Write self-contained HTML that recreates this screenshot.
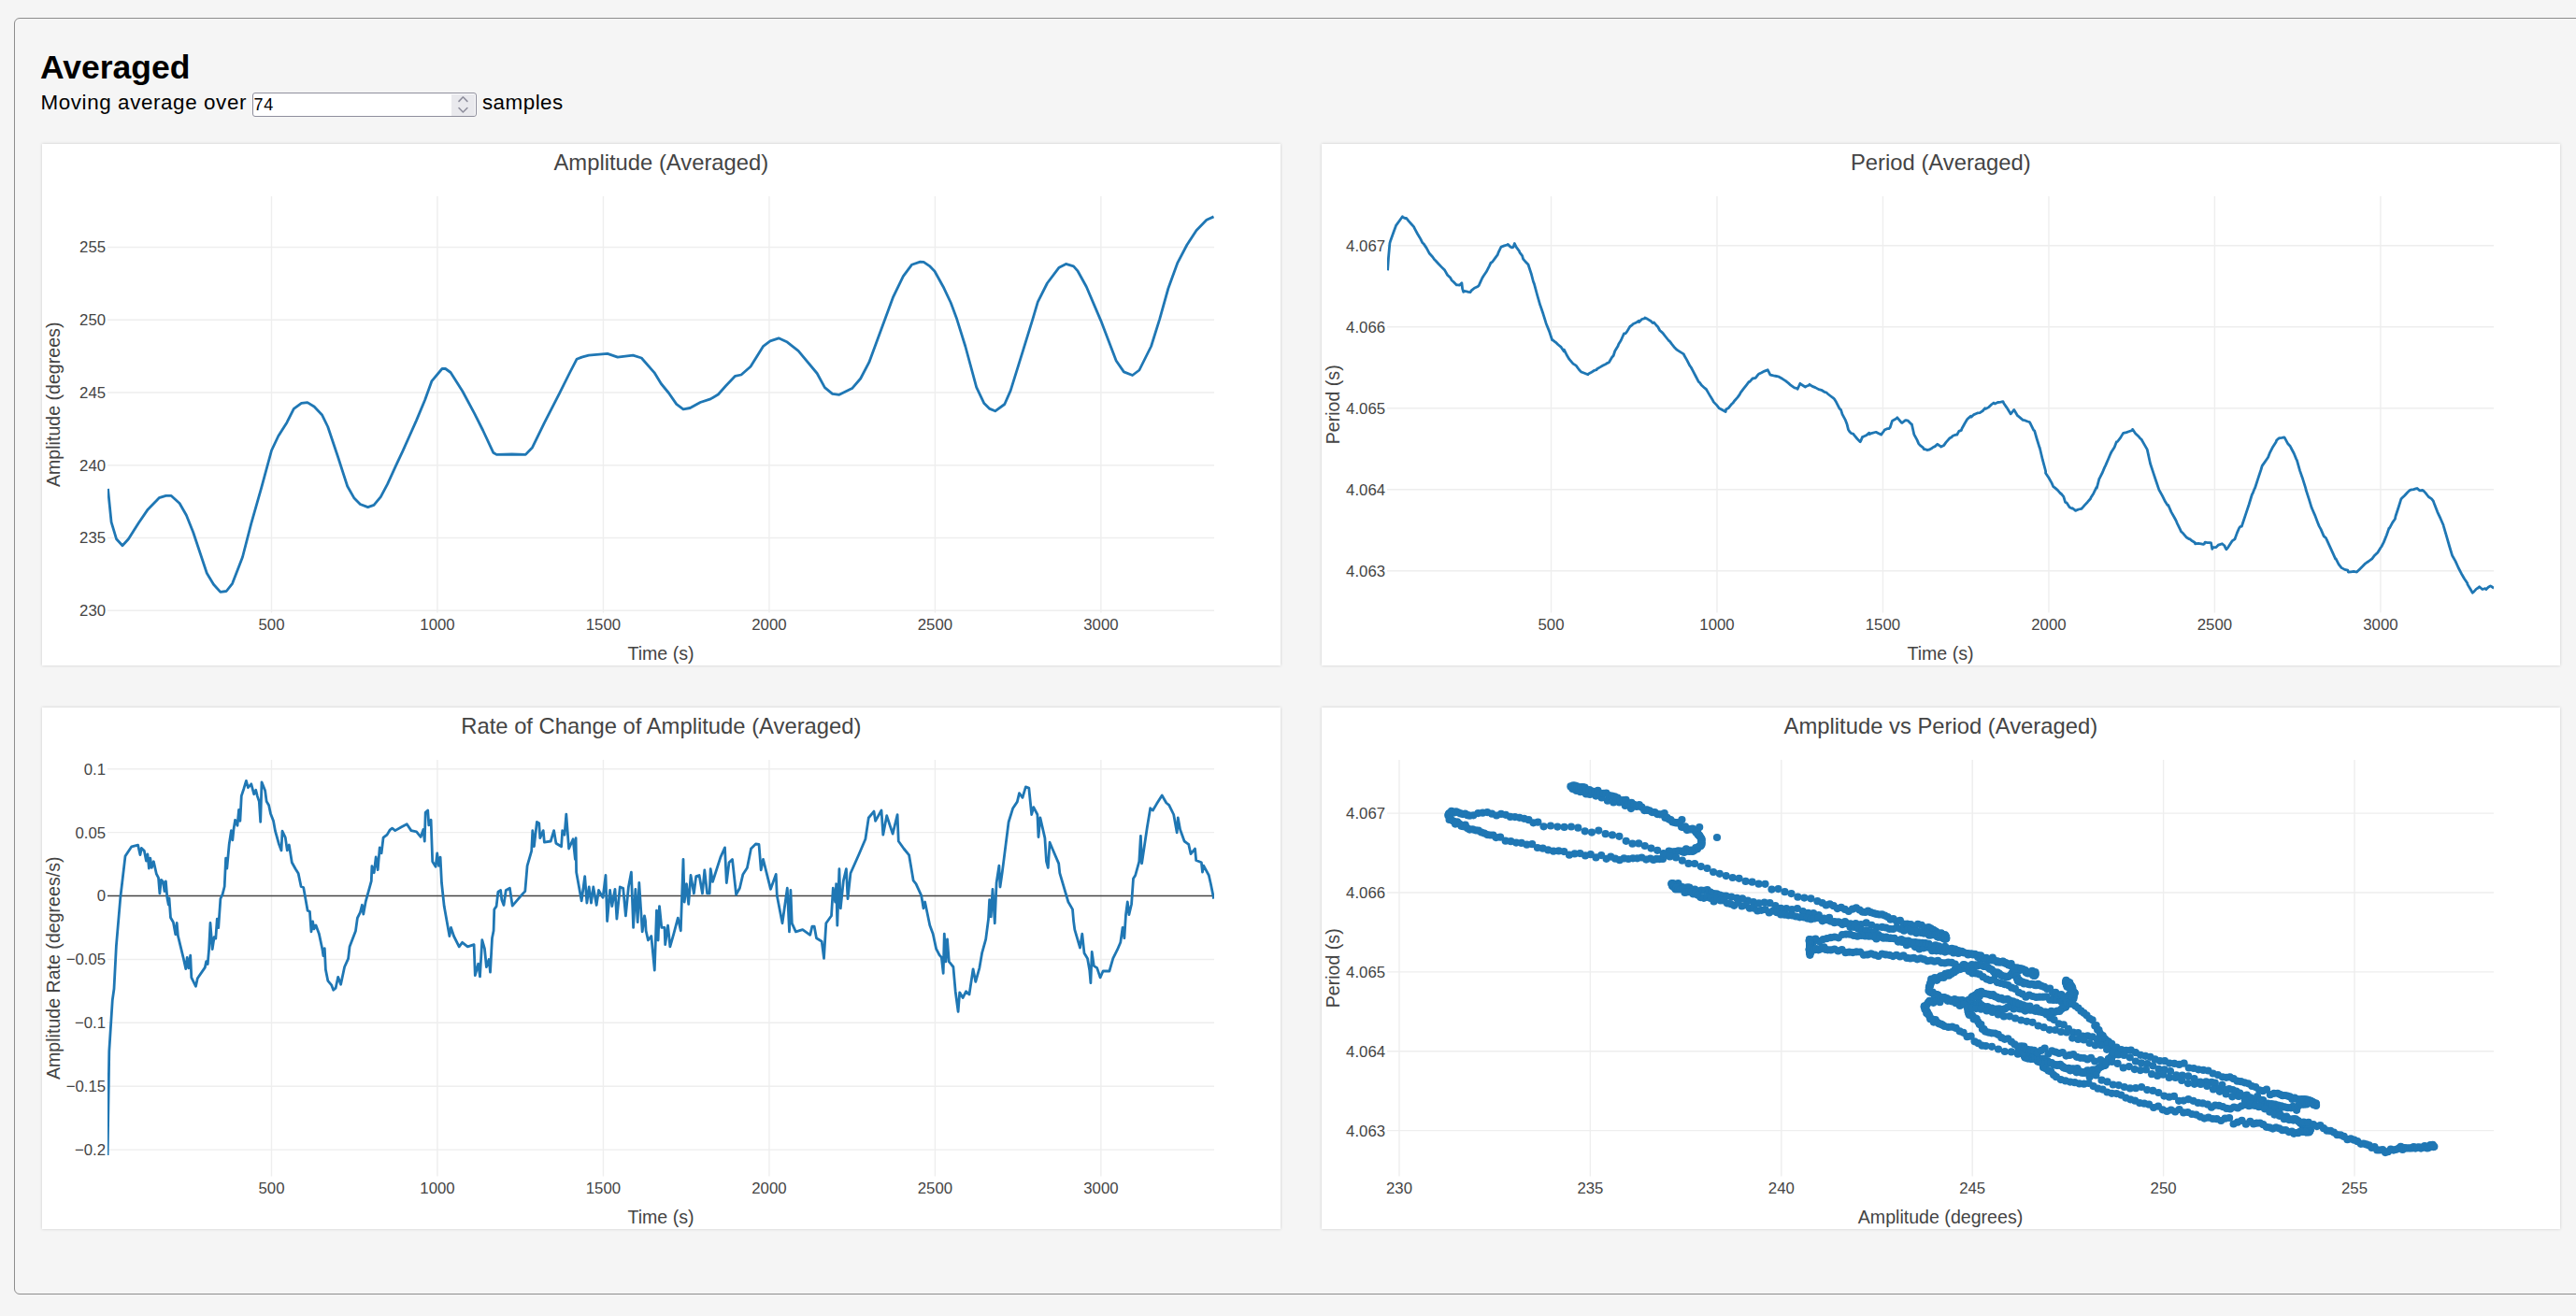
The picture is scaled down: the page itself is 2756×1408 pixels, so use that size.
<!DOCTYPE html>
<html><head><meta charset="utf-8"><style>
html,body{margin:0;padding:0;width:2756px;height:1408px;overflow:hidden;background:#f5f5f5;}
body{position:relative;font-family:"Liberation Sans",sans-serif;}
.outer{position:absolute;left:14.9px;top:18.6px;width:2800px;height:1366.6px;border:1.4px solid #8d8d8d;border-radius:6px;box-sizing:border-box;}
.card{position:absolute;background:#fff;width:1324.7px;height:558.3px;box-shadow:0 0 3px rgba(0,0,0,0.18);}
.h{position:absolute;left:43px;top:0;font-weight:700;font-size:35.5px;line-height:1;color:#000;white-space:nowrap;}
.lbl{position:absolute;font-size:23px;line-height:1;color:#000;white-space:nowrap;}
.inp{position:absolute;left:270.4px;top:99.3px;width:239.3px;height:26.2px;box-sizing:border-box;border:1.4px solid #8f8f9d;border-radius:3px;background:#fff;}
.spin{position:absolute;left:482.8px;top:101px;width:25.5px;height:22.8px;background:#e9e9ed;}
svg{position:absolute;left:0;top:0;}
.tk{font-family:"Liberation Sans",sans-serif;font-size:16.8px;fill:#444;}
.ti{font-family:"Liberation Sans",sans-serif;font-size:23.8px;fill:#444;}
.ax{font-family:"Liberation Sans",sans-serif;font-size:19.6px;fill:#444;}
</style></head><body>
<div class="outer"></div>
<div class="card" style="left:45.0px;top:153.7px"></div>
<div class="card" style="left:1414.0px;top:153.7px"></div>
<div class="card" style="left:45.0px;top:756.7px"></div>
<div class="card" style="left:1414.0px;top:756.7px"></div>
<div class="h" style="top:55px">Averaged</div>
<div class="lbl" style="left:43.5px;top:98.94px;font-size:22.4px;letter-spacing:0.6px">Moving average over</div>
<div class="inp"></div>
<div class="spin"></div>
<div class="lbl" style="left:271.6px;top:103.4px;font-size:18px;letter-spacing:0.6px">74</div>
<div class="lbl" style="left:515.9px;top:98.94px;font-size:22.4px;letter-spacing:0.5px">samples</div>
<svg width="2756" height="1408" viewBox="0 0 2756 1408">
<g fill="none" stroke="#8f8f9d" stroke-width="1.6" stroke-linecap="round" stroke-linejoin="round">
<path d="M491.0,108.4 L495.4,103.8 L499.9,108.4"/>
<path d="M491.0,115.5 L495.4,120.0 L499.9,115.5"/>
</g>
<line x1="290.50" y1="210.10" x2="290.50" y2="655.50" stroke="#eee" stroke-width="1.4"/><line x1="467.98" y1="210.10" x2="467.98" y2="655.50" stroke="#eee" stroke-width="1.4"/><line x1="645.46" y1="210.10" x2="645.46" y2="655.50" stroke="#eee" stroke-width="1.4"/><line x1="822.94" y1="210.10" x2="822.94" y2="655.50" stroke="#eee" stroke-width="1.4"/><line x1="1000.42" y1="210.10" x2="1000.42" y2="655.50" stroke="#eee" stroke-width="1.4"/><line x1="1177.90" y1="210.10" x2="1177.90" y2="655.50" stroke="#eee" stroke-width="1.4"/><line x1="115.00" y1="653.30" x2="1299.00" y2="653.30" stroke="#eee" stroke-width="1.4"/><line x1="115.00" y1="575.55" x2="1299.00" y2="575.55" stroke="#eee" stroke-width="1.4"/><line x1="115.00" y1="497.80" x2="1299.00" y2="497.80" stroke="#eee" stroke-width="1.4"/><line x1="115.00" y1="420.05" x2="1299.00" y2="420.05" stroke="#eee" stroke-width="1.4"/><line x1="115.00" y1="342.30" x2="1299.00" y2="342.30" stroke="#eee" stroke-width="1.4"/><line x1="115.00" y1="264.55" x2="1299.00" y2="264.55" stroke="#eee" stroke-width="1.4"/><text x="290.50" y="673.90" text-anchor="middle" class="tk">500</text><text x="467.98" y="673.90" text-anchor="middle" class="tk">1000</text><text x="645.46" y="673.90" text-anchor="middle" class="tk">1500</text><text x="822.94" y="673.90" text-anchor="middle" class="tk">2000</text><text x="1000.42" y="673.90" text-anchor="middle" class="tk">2500</text><text x="1177.90" y="673.90" text-anchor="middle" class="tk">3000</text><text x="113.10" y="659.20" text-anchor="end" class="tk">230</text><text x="113.10" y="581.45" text-anchor="end" class="tk">235</text><text x="113.10" y="503.70" text-anchor="end" class="tk">240</text><text x="113.10" y="425.95" text-anchor="end" class="tk">245</text><text x="113.10" y="348.20" text-anchor="end" class="tk">250</text><text x="113.10" y="270.45" text-anchor="end" class="tk">255</text><text x="707.35" y="182.00" text-anchor="middle" class="ti">Amplitude (Averaged)</text><text x="707.00" y="705.90" text-anchor="middle" class="ax">Time (s)</text><text transform="translate(64.30,432.80) rotate(-90)" text-anchor="middle" class="ax">Amplitude (degrees)</text><clipPath id="c1"><rect x="115.00" y="210.10" width="1184.00" height="445.40"/></clipPath><polyline clip-path="url(#c1)" points="115.5,523.0 119.1,558.6 124.6,576.8 131.0,583.8 137.4,576.8 148.3,559.5 158.3,544.9 170.2,532.7 177.5,530.3 183.0,530.3 192.1,538.5 199.4,551.3 206.7,569.5 221.3,613.3 228.5,625.2 235.8,633.4 242.2,632.5 248.6,624.3 259.5,596.0 268.7,560.4 279.6,522.1 290.5,482.0 297.8,466.5 307.0,451.9 314.3,437.3 322.5,431.3 328.9,430.6 336.1,435.0 344.4,443.7 350.7,456.5 361.7,489.3 371.7,520.3 379.0,533.1 385.4,539.5 393.6,542.6 400.0,540.4 407.3,531.6 414.6,517.9 423.7,497.9 431.0,482.4 438.3,466.0 445.6,449.6 454.7,427.7 462.0,407.6 473.0,394.5 476.6,394.5 482.1,398.5 494.8,418.5 507.6,442.3 516.7,460.5 527.7,484.2 531.3,486.4 547.7,486.0 562.3,486.4 569.6,478.7 582.4,452.3 598.8,420.4 609.7,398.5 617.0,384.3 622.5,382.1 629.8,380.2 649.9,378.4 660.8,382.1 677.2,380.2 686.3,383.0 700.0,398.6 707.3,410.5 715.5,420.5 723.7,432.4 731.0,437.8 738.3,436.5 749.2,430.5 760.2,426.9 768.4,422.0 776.6,412.8 786.6,402.3 793.0,401.0 803.0,392.2 816.7,370.3 824.0,364.9 833.1,361.8 842.3,366.1 854.1,375.3 874.2,399.5 882.4,414.7 890.6,421.4 897.9,422.3 911.6,415.6 920.7,405.0 929.8,387.7 942.6,353.0 955.3,318.4 966.3,295.6 975.4,283.3 984.5,280.1 988.2,280.4 994.5,284.6 1000.0,290.2 1009.1,306.7 1017.3,324.0 1023.7,341.3 1032.8,370.5 1044.7,414.3 1052.9,431.6 1058.4,437.1 1064.7,439.8 1074.8,432.5 1081.2,417.9 1094.8,374.1 1104.9,341.3 1110.3,323.1 1120.4,303.0 1133.1,286.2 1140.4,282.4 1148.6,284.8 1153.2,290.2 1162.3,306.7 1177.8,343.1 1194.2,386.0 1202.4,397.9 1211.6,401.5 1218.9,396.0 1231.6,370.5 1240.7,341.3 1249.9,308.5 1259.9,281.1 1269.9,262.0 1280.0,246.5 1290.9,235.2 1298.5,231.9" fill="none" stroke="#1f77b4" stroke-width="2.8" stroke-linejoin="round" stroke-linecap="butt"/><line x1="1659.50" y1="210.10" x2="1659.50" y2="655.50" stroke="#eee" stroke-width="1.4"/><line x1="1836.98" y1="210.10" x2="1836.98" y2="655.50" stroke="#eee" stroke-width="1.4"/><line x1="2014.46" y1="210.10" x2="2014.46" y2="655.50" stroke="#eee" stroke-width="1.4"/><line x1="2191.94" y1="210.10" x2="2191.94" y2="655.50" stroke="#eee" stroke-width="1.4"/><line x1="2369.42" y1="210.10" x2="2369.42" y2="655.50" stroke="#eee" stroke-width="1.4"/><line x1="2546.90" y1="210.10" x2="2546.90" y2="655.50" stroke="#eee" stroke-width="1.4"/><line x1="1484.00" y1="610.80" x2="2668.00" y2="610.80" stroke="#eee" stroke-width="1.4"/><line x1="1484.00" y1="523.80" x2="2668.00" y2="523.80" stroke="#eee" stroke-width="1.4"/><line x1="1484.00" y1="436.80" x2="2668.00" y2="436.80" stroke="#eee" stroke-width="1.4"/><line x1="1484.00" y1="349.80" x2="2668.00" y2="349.80" stroke="#eee" stroke-width="1.4"/><line x1="1484.00" y1="262.80" x2="2668.00" y2="262.80" stroke="#eee" stroke-width="1.4"/><text x="1659.50" y="673.90" text-anchor="middle" class="tk">500</text><text x="1836.98" y="673.90" text-anchor="middle" class="tk">1000</text><text x="2014.46" y="673.90" text-anchor="middle" class="tk">1500</text><text x="2191.94" y="673.90" text-anchor="middle" class="tk">2000</text><text x="2369.42" y="673.90" text-anchor="middle" class="tk">2500</text><text x="2546.90" y="673.90" text-anchor="middle" class="tk">3000</text><text x="1482.10" y="616.70" text-anchor="end" class="tk">4.063</text><text x="1482.10" y="529.70" text-anchor="end" class="tk">4.064</text><text x="1482.10" y="442.70" text-anchor="end" class="tk">4.065</text><text x="1482.10" y="355.70" text-anchor="end" class="tk">4.066</text><text x="1482.10" y="268.70" text-anchor="end" class="tk">4.067</text><text x="2076.35" y="182.00" text-anchor="middle" class="ti">Period (Averaged)</text><text x="2076.00" y="705.90" text-anchor="middle" class="ax">Time (s)</text><text transform="translate(1433.30,432.80) rotate(-90)" text-anchor="middle" class="ax">Period (s)</text><clipPath id="c2"><rect x="1484.00" y="210.10" width="1184.00" height="445.40"/></clipPath><polyline clip-path="url(#c2)" points="1484.6,289.3 1485.5,275.7 1486.9,260.2 1487.8,257.2 1491.0,248.3 1493.7,241.0 1494.2,240.4 1497.4,236.0 1500.4,231.7 1500.6,232.4 1503.8,233.6 1504.6,233.4 1507.0,236.4 1510.2,240.0 1512.8,242.9 1513.4,244.4 1516.6,250.2 1519.8,255.6 1521.9,259.9 1523.0,260.6 1526.2,265.4 1529.4,271.3 1532.6,274.7 1534.7,277.8 1535.8,278.8 1539.0,282.3 1542.2,285.6 1545.4,288.8 1545.7,289.1 1548.6,294.2 1551.8,297.3 1553.0,299.7 1555.0,301.5 1558.2,304.8 1558.4,304.6 1561.4,305.2 1563.9,302.7 1564.6,308.8 1565.7,312.3 1567.8,311.5 1571.0,312.3 1573.0,312.6 1574.2,310.9 1577.4,308.2 1580.6,306.8 1582.1,305.7 1583.8,301.9 1585.8,297.5 1587.0,295.5 1590.2,290.8 1593.4,284.6 1594.9,281.3 1596.6,280.3 1599.8,275.9 1602.2,272.7 1603.0,270.4 1605.8,264.5 1606.2,264.1 1609.4,262.9 1612.6,262.0 1613.1,261.4 1615.8,263.9 1617.7,264.9 1619.0,264.4 1620.4,260.5 1622.2,264.4 1625.4,268.6 1625.9,270.2 1628.6,273.7 1629.6,277.1 1631.8,279.7 1635.0,283.0 1635.0,283.0 1638.2,292.7 1640.5,301.5 1641.4,303.6 1644.6,315.5 1647.8,326.7 1647.8,326.4 1651.0,335.8 1654.2,346.2 1657.4,354.1 1660.6,363.8 1660.6,363.2 1663.8,365.9 1664.2,365.9 1667.0,368.7 1670.2,371.4 1673.3,376.1 1673.4,374.2 1676.6,380.6 1678.8,384.2 1679.8,385.4 1683.0,389.1 1686.2,391.2 1689.4,395.5 1691.6,397.9 1692.6,398.3 1695.8,399.5 1698.9,400.8 1699.0,400.3 1702.2,398.6 1705.4,396.5 1708.0,395.7 1708.6,394.7 1711.8,392.9 1715.0,391.0 1718.2,389.5 1718.9,388.9 1721.4,387.8 1724.6,382.3 1726.2,380.5 1727.8,375.5 1731.0,370.2 1731.7,368.2 1734.2,364.3 1737.4,357.0 1739.0,356.8 1740.6,354.9 1743.8,349.5 1746.3,347.7 1747.0,346.7 1750.2,345.3 1753.4,343.2 1753.6,344.6 1756.6,341.5 1759.8,340.6 1760.0,340.0 1763.0,341.6 1766.2,343.5 1768.2,345.6 1769.4,344.9 1772.6,348.6 1773.6,349.5 1775.8,353.5 1778.2,355.6 1779.0,356.4 1782.2,360.5 1785.4,364.5 1786.4,365.2 1788.6,368.2 1791.8,372.1 1793.7,373.9 1795.0,374.9 1798.2,376.9 1801.4,378.9 1801.9,380.2 1804.6,384.9 1807.8,391.2 1809.2,393.0 1811.0,396.4 1814.2,402.5 1817.4,408.6 1818.3,409.2 1820.6,412.3 1823.8,415.2 1825.6,416.7 1827.0,419.1 1830.2,424.6 1832.0,427.4 1833.4,430.1 1836.6,433.4 1839.3,436.8 1839.8,437.0 1843.0,438.7 1846.2,440.6 1846.6,437.9 1849.4,436.4 1852.6,432.4 1853.9,431.3 1855.8,428.7 1859.0,425.1 1861.2,422.1 1862.2,420.1 1865.4,415.9 1868.6,411.8 1871.2,408.4 1871.8,408.6 1875.0,405.0 1878.2,404.4 1881.3,400.3 1881.4,400.3 1884.6,398.8 1887.8,397.1 1891.0,395.9 1891.3,395.8 1894.0,401.2 1894.2,401.2 1897.4,401.9 1900.6,402.5 1903.1,403.0 1903.8,403.5 1907.0,405.3 1910.2,407.4 1913.4,409.9 1915.9,412.2 1916.6,412.7 1919.8,414.9 1923.0,415.7 1923.2,416.3 1925.9,410.3 1926.2,410.7 1929.4,412.7 1931.4,414.0 1932.6,413.3 1935.8,412.0 1936.0,411.3 1939.0,413.4 1942.2,414.6 1945.4,416.4 1946.0,416.6 1948.6,417.3 1951.8,419.3 1954.2,420.0 1955.0,421.0 1958.2,423.5 1961.4,425.9 1962.4,426.8 1964.6,430.3 1967.8,436.7 1969.7,438.8 1971.0,443.2 1974.2,449.1 1976.1,454.1 1977.4,459.4 1978.8,461.7 1980.6,463.6 1982.5,464.0 1983.8,465.6 1987.0,469.5 1990.2,472.7 1990.7,472.0 1992.5,467.6 1993.4,467.2 1996.6,465.8 1999.8,463.2 1999.8,464.6 2003.0,463.3 2006.2,462.5 2007.1,462.3 2009.4,463.5 2012.6,465.1 2012.6,465.1 2015.8,460.7 2016.2,460.1 2019.0,458.7 2020.8,458.7 2022.2,457.2 2024.4,450.4 2025.4,449.8 2028.6,448.1 2029.9,446.8 2031.8,449.1 2034.5,452.3 2035.0,452.5 2038.2,449.9 2039.0,449.7 2041.4,450.2 2044.6,453.5 2045.4,454.0 2047.8,464.7 2048.1,465.3 2051.0,470.6 2052.7,474.6 2054.2,476.4 2057.4,478.8 2058.2,480.5 2060.6,480.9 2061.8,481.5 2063.8,481.2 2067.0,479.5 2068.2,478.5 2070.2,477.6 2072.8,475.2 2073.4,475.8 2076.4,477.6 2076.6,478.0 2079.8,476.4 2081.9,473.4 2083.0,472.1 2086.2,468.5 2087.4,468.1 2089.4,466.3 2092.6,465.1 2093.7,465.2 2095.8,461.4 2098.3,460.4 2099.0,458.5 2102.2,452.7 2104.7,448.6 2105.4,447.8 2108.6,445.2 2109.2,446.1 2111.8,443.6 2115.0,442.3 2115.6,441.9 2118.2,441.6 2121.4,439.5 2123.8,436.7 2124.6,437.4 2127.8,435.6 2131.0,432.5 2133.0,431.0 2134.2,432.0 2137.4,430.5 2140.6,430.2 2143.0,429.6 2143.8,431.5 2147.0,436.1 2150.2,441.3 2151.2,442.9 2153.4,440.2 2154.8,438.4 2156.6,441.5 2158.5,444.7 2159.8,445.7 2163.0,448.3 2164.0,449.3 2166.2,449.7 2169.4,451.0 2171.3,451.5 2172.6,453.8 2175.8,460.3 2176.7,460.9 2179.0,469.0 2182.2,479.4 2182.2,478.7 2185.4,492.2 2188.6,504.0 2188.6,506.2 2191.8,511.0 2195.0,516.6 2196.8,520.7 2198.2,521.6 2201.4,524.4 2204.6,528.2 2205.0,528.0 2207.8,531.3 2209.6,537.4 2211.0,537.8 2214.2,542.8 2216.8,544.0 2217.4,543.7 2220.6,546.4 2222.3,545.6 2223.8,545.0 2227.0,544.3 2228.7,542.4 2230.2,540.6 2233.4,537.2 2236.6,533.5 2236.9,532.6 2239.8,527.9 2243.0,521.4 2243.3,522.1 2246.0,511.9 2246.2,511.8 2249.4,505.5 2251.5,500.4 2252.6,498.1 2255.8,490.7 2257.9,485.8 2259.0,483.4 2262.2,478.4 2264.3,472.9 2265.4,472.5 2268.6,468.4 2271.6,463.4 2271.8,463.3 2275.0,462.6 2278.2,461.5 2281.4,460.4 2281.6,459.3 2284.6,463.7 2287.8,466.7 2289.8,469.1 2291.0,470.0 2294.2,475.6 2297.1,480.6 2297.4,481.6 2300.6,496.2 2300.7,496.5 2303.8,505.9 2307.0,515.5 2309.9,524.1 2310.2,524.6 2313.4,530.4 2316.6,536.8 2319.0,540.5 2319.8,540.5 2323.0,547.9 2326.2,553.5 2328.1,557.0 2329.4,560.1 2332.6,566.6 2333.6,568.8 2335.8,570.8 2339.0,574.7 2342.2,576.7 2342.7,576.6 2345.4,578.8 2348.2,580.5 2348.6,581.8 2351.8,581.3 2355.0,581.9 2357.3,582.3 2358.2,582.0 2359.1,580.2 2361.4,580.6 2364.6,580.6 2365.5,580.8 2366.8,587.4 2367.8,585.6 2371.0,585.5 2373.7,582.8 2374.2,582.9 2377.4,581.7 2380.1,584.0 2380.6,585.5 2381.9,587.8 2383.8,585.6 2387.0,580.5 2388.3,578.6 2390.2,577.3 2391.0,576.8 2393.4,570.1 2395.6,565.0 2396.6,563.7 2398.3,563.2 2399.8,558.8 2403.0,549.1 2406.2,539.5 2409.4,529.0 2410.2,527.7 2412.0,523.1 2412.6,522.0 2415.8,512.1 2419.0,502.5 2420.2,498.4 2422.2,495.6 2425.4,491.0 2426.6,489.3 2428.6,484.1 2431.8,477.9 2435.0,472.9 2435.7,471.0 2438.2,468.9 2439.3,468.6 2441.4,468.4 2443.9,467.8 2444.6,468.9 2447.8,474.8 2450.3,477.5 2451.0,479.0 2454.2,485.0 2456.7,491.1 2457.4,492.4 2460.6,503.6 2463.8,512.8 2466.7,522.1 2467.0,523.7 2470.2,533.6 2473.1,543.1 2473.4,543.8 2476.6,551.1 2479.8,559.4 2481.3,563.1 2483.0,566.1 2486.2,573.6 2488.6,575.8 2489.4,577.7 2492.6,584.7 2495.8,591.7 2498.6,597.8 2499.0,597.6 2502.2,603.8 2505.0,607.4 2505.4,607.6 2508.6,609.4 2511.8,610.2 2512.3,612.0 2515.0,611.9 2518.2,611.4 2520.5,611.8 2521.4,612.0 2524.6,608.9 2527.8,605.8 2530.5,603.0 2531.0,602.7 2534.2,600.5 2537.4,598.1 2537.8,597.8 2540.6,594.2 2543.8,591.2 2547.0,586.0 2547.8,585.0 2550.2,580.4 2553.4,572.5 2556.0,565.0 2556.6,564.8 2559.8,558.9 2562.4,555.2 2563.0,552.2 2566.2,542.5 2568.8,534.1 2569.4,533.3 2572.6,530.2 2575.8,526.7 2577.9,524.8 2579.0,524.2 2582.2,523.6 2585.4,522.7 2586.1,522.5 2588.6,524.8 2591.8,524.5 2592.5,524.8 2595.0,527.4 2598.2,531.5 2601.4,533.6 2603.4,536.2 2604.6,539.6 2607.8,547.8 2609.8,552.2 2611.0,554.7 2614.2,562.0 2614.4,563.1 2617.4,573.3 2620.6,584.5 2623.5,594.1 2623.8,594.7 2627.0,600.4 2630.2,607.5 2632.6,612.1 2633.4,613.7 2636.6,619.3 2639.8,624.0 2639.9,625.1 2643.0,630.3 2645.3,634.2 2646.2,633.6 2649.4,630.1 2650.8,629.3 2652.6,627.8 2655.8,630.5 2659.0,629.6 2659.9,630.6 2662.2,628.3 2664.5,626.9 2665.4,627.4 2668.1,629.3" fill="none" stroke="#1f77b4" stroke-width="2.8" stroke-linejoin="round" stroke-linecap="butt"/><line x1="290.50" y1="813.10" x2="290.50" y2="1258.50" stroke="#eee" stroke-width="1.4"/><line x1="467.98" y1="813.10" x2="467.98" y2="1258.50" stroke="#eee" stroke-width="1.4"/><line x1="645.46" y1="813.10" x2="645.46" y2="1258.50" stroke="#eee" stroke-width="1.4"/><line x1="822.94" y1="813.10" x2="822.94" y2="1258.50" stroke="#eee" stroke-width="1.4"/><line x1="1000.42" y1="813.10" x2="1000.42" y2="1258.50" stroke="#eee" stroke-width="1.4"/><line x1="1177.90" y1="813.10" x2="1177.90" y2="1258.50" stroke="#eee" stroke-width="1.4"/><line x1="115.00" y1="822.78" x2="1299.00" y2="822.78" stroke="#eee" stroke-width="1.4"/><line x1="115.00" y1="890.66" x2="1299.00" y2="890.66" stroke="#eee" stroke-width="1.4"/><line x1="115.00" y1="1026.43" x2="1299.00" y2="1026.43" stroke="#eee" stroke-width="1.4"/><line x1="115.00" y1="1094.32" x2="1299.00" y2="1094.32" stroke="#eee" stroke-width="1.4"/><line x1="115.00" y1="1162.20" x2="1299.00" y2="1162.20" stroke="#eee" stroke-width="1.4"/><line x1="115.00" y1="1230.09" x2="1299.00" y2="1230.09" stroke="#eee" stroke-width="1.4"/><line x1="115.00" y1="958.55" x2="1299.00" y2="958.55" stroke="#444" stroke-width="1.4"/><text x="290.50" y="1276.90" text-anchor="middle" class="tk">500</text><text x="467.98" y="1276.90" text-anchor="middle" class="tk">1000</text><text x="645.46" y="1276.90" text-anchor="middle" class="tk">1500</text><text x="822.94" y="1276.90" text-anchor="middle" class="tk">2000</text><text x="1000.42" y="1276.90" text-anchor="middle" class="tk">2500</text><text x="1177.90" y="1276.90" text-anchor="middle" class="tk">3000</text><text x="113.10" y="828.68" text-anchor="end" class="tk">0.1</text><text x="113.10" y="896.56" text-anchor="end" class="tk">0.05</text><text x="113.10" y="964.45" text-anchor="end" class="tk">0</text><text x="113.10" y="1032.34" text-anchor="end" class="tk">−0.05</text><text x="113.10" y="1100.22" text-anchor="end" class="tk">−0.1</text><text x="113.10" y="1168.11" text-anchor="end" class="tk">−0.15</text><text x="113.10" y="1235.99" text-anchor="end" class="tk">−0.2</text><text x="707.35" y="785.00" text-anchor="middle" class="ti">Rate of Change of Amplitude (Averaged)</text><text x="707.00" y="1308.90" text-anchor="middle" class="ax">Time (s)</text><text transform="translate(64.30,1035.80) rotate(-90)" text-anchor="middle" class="ax">Amplitude Rate (degrees/s)</text><clipPath id="c3"><rect x="115.00" y="813.10" width="1184.00" height="445.40"/></clipPath><polyline clip-path="url(#c3)" points="115.1,1235.9 116.8,1124.7 120.3,1070.0 122.0,1058.0 124.4,1011.8 128.8,960.5 134.0,916.1 140.8,905.8 147.6,904.1 150.0,914.6 151.4,907.4 154.3,910.3 156.5,921.1 157.9,913.9 159.4,929.1 160.8,918.2 162.3,928.3 164.4,921.8 167.3,934.8 169.5,939.2 170.9,955.8 172.4,941.3 174.5,943.5 176.0,953.6 177.4,942.8 178.9,960.8 180.3,968.0 181.0,960.8 182.5,981.7 185.4,986.8 187.8,999.8 189.2,987.5 190.4,1001.2 196.2,1025.0 198.8,1036.6 200.2,1024.3 201.9,1035.8 203.7,1022.1 204.8,1045.9 209.5,1055.3 211.3,1046.7 219.3,1035.1 220.7,1028.6 222.2,1031.5 223.6,1015.6 225.0,987.5 227.2,1015.6 229.1,1002.7 230.8,1004.1 232.3,983.2 233.7,992.6 235.9,961.5 238.0,957.2 240.2,948.5 241.6,918.2 242.8,929.1 245.2,903.1 247.4,888.7 248.8,898.8 250.0,887.2 251.6,877.3 254.0,883.3 255.5,866.5 256.9,878.3 258.3,851.6 260.9,843.7 263.4,835.4 265.4,842.7 268.8,838.8 271.7,849.7 273.7,845.3 275.3,851.6 277.3,857.6 278.7,879.3 280.0,836.8 283.6,845.7 285.2,857.6 287.6,861.5 289.5,870.4 292.5,878.3 294.5,889.2 298.4,903.0 301.0,909.9 302.0,889.2 305.3,896.1 307.3,909.9 309.3,904.0 312.3,922.8 316.2,929.7 319.2,934.6 322.1,948.5 324.7,949.5 329.1,974.2 331.4,975.2 333.0,996.9 334.6,986.0 336.0,993.9 338.0,990.0 341.3,998.9 344.9,1015.7 345.9,1022.6 347.3,1014.7 348.4,1037.4 350.8,1049.3 354.8,1054.2 356.7,1059.2 359.1,1057.2 361.7,1045.3 364.6,1053.2 368.6,1034.5 372.6,1025.6 374.1,1012.7 380.5,995.9 382.4,982.1 385.4,976.2 387.4,968.3 388.8,978.1 391.3,964.3 397.3,942.6 397.9,926.7 400.2,933.7 402.2,916.9 404.2,930.7 406.2,907.0 408.1,912.9 410.1,896.1 414.1,893.1 417.0,888.2 419.6,886.2 422.8,888.6 429.6,884.8 435.3,881.8 439.9,888.6 445.6,889.8 450.1,895.5 452.9,887.5 454.3,900.0 455.2,869.3 457.7,867.0 458.8,882.9 461.1,877.2 462.7,921.7 466.1,927.4 467.7,913.0 469.5,926.3 471.1,917.1 472.5,944.5 475.2,969.6 480.9,1001.5 482.5,992.4 485.5,1001.5 491.2,1012.9 494.6,1008.3 500.3,1012.9 507.1,1010.6 508.3,1043.6 511.7,1031.1 513.5,1044.8 515.8,1005.6 518.5,1015.2 520.4,1034.5 523.1,1026.5 524.5,1040.2 526.5,1003.8 528.1,995.8 528.8,973.0 531.1,969.6 532.9,954.1 535.6,952.5 536.8,962.7 539.0,968.4 541.3,952.5 545.4,950.2 548.2,969.1 552.7,963.9 559.6,955.9 561.8,953.6 564.1,926.3 568.7,910.3 569.8,888.6 571.4,905.7 574.4,879.5 576.7,880.7 577.8,896.6 581.2,888.6 582.4,901.2 589.2,900.0 592.6,888.6 594.9,902.3 600.6,905.7 601.7,888.6 604.0,893.2 605.8,871.1 608.6,908.0 613.1,897.8 615.4,919.4 616.1,896.6 616.6,933.1 622.2,963.9 625.7,937.6 627.9,966.1 630.2,949.0 632.5,966.1 634.8,949.0 638.2,968.4 640.5,952.5 645.0,960.4 648.0,936.5 649.6,985.5 652.6,952.5 654.8,969.6 658.0,951.3 659.9,983.2 663.3,949.0 666.7,950.2 669.4,979.8 672.4,949.0 675.4,933.1 677.6,992.4 679.9,951.3 682.2,986.7 683.8,944.5 687.2,996.9 689.5,979.8 690.5,985.0 691.1,995.8 693.4,1006.0 696.8,1001.5 700.3,1038.0 702.5,974.1 704.1,1006.0 705.5,969.6 707.8,992.4 711.0,992.4 711.7,1010.6 714.6,990.1 716.9,1012.9 720.8,999.2 725.3,982.1 728.3,995.8 731.0,919.4 732.2,965.0 734.5,945.6 736.7,967.3 739.0,936.5 742.4,955.9 744.7,937.6 748.1,936.5 751.5,955.9 753.8,930.8 756.6,955.9 759.1,955.9 760.2,929.7 762.5,943.4 770.9,917.1 775.5,906.9 777.3,944.5 780.0,922.8 783.5,919.4 787.6,957.0 791.4,950.2 794.9,935.4 799.4,928.5 803.5,908.0 808.5,903.0 812.0,903.5 814.2,930.8 816.5,919.4 824.5,951.3 830.2,935.4 831.3,958.2 837.0,987.8 842.3,950.2 844.5,996.9 845.9,952.5 847.3,987.8 851.4,996.9 858.7,994.6 866.7,1000.3 868.9,991.2 871.2,991.2 873.5,1003.8 879.2,1007.2 881.5,1025.4 883.8,987.8 889.5,979.8 891.3,950.2 893.6,965.0 894.7,945.6 895.8,990.1 897.9,929.7 899.3,971.8 902.4,942.2 905.4,929.7 907.0,961.6 910.0,934.2 919.1,913.7 925.9,897.8 929.3,875.0 935.0,868.1 936.6,878.4 943.0,867.0 944.8,893.2 948.7,872.7 955.1,892.1 960.1,871.6 961.3,900.0 967.0,908.0 972.6,914.9 977.2,942.2 980.0,945.6 985.7,958.1 988.0,971.8 989.6,965.0 994.8,990.0 998.2,999.2 1001.6,1015.1 1005.1,1021.9 1007.3,1024.2 1009.2,1041.3 1010.3,999.2 1011.9,1028.8 1013.5,1004.9 1015.3,1028.8 1019.9,1034.5 1022.2,1060.7 1025.1,1082.3 1026.7,1061.8 1030.1,1067.5 1033.6,1060.7 1037.0,1064.1 1041.1,1036.8 1043.8,1050.4 1047.9,1035.6 1050.6,1019.7 1054.7,1004.9 1057.5,983.2 1058.6,962.7 1060.2,980.9 1062.0,951.3 1064.3,987.8 1066.1,944.5 1068.9,926.2 1070.0,949.0 1072.3,933.1 1079.1,879.5 1083.7,864.7 1088.3,857.9 1090.5,848.7 1094.0,853.3 1097.4,841.9 1100.8,843.0 1103.7,871.5 1105.8,863.6 1109.9,871.5 1111.0,895.5 1112.9,874.9 1117.9,896.6 1119.5,921.7 1121.3,928.5 1123.1,901.2 1125.9,908.0 1132.7,923.9 1133.8,934.2 1142.9,965.0 1147.5,972.9 1148.6,985.5 1149.8,994.6 1155.5,1014.0 1157.8,999.2 1160.0,1019.7 1163.5,1025.4 1165.7,1037.9 1166.9,1051.6 1168.2,1018.5 1170.3,1033.3 1173.7,1035.6 1177.1,1045.9 1180.1,1039.0 1186.9,1039.0 1190.8,1025.4 1195.4,1016.2 1198.8,1008.3 1201.1,992.3 1202.9,1003.7 1204.5,978.6 1206.3,965.0 1207.9,978.6 1210.6,967.2 1212.5,939.9 1214.7,936.5 1218.8,921.7 1220.4,894.3 1221.6,923.9 1227.3,885.2 1230.7,864.7 1233.4,867.0 1237.5,860.1 1243.2,851.0 1247.8,859.0 1250.7,861.3 1255.7,871.5 1259.2,890.9 1260.3,874.9 1262.6,887.5 1267.1,900.0 1271.7,903.4 1274.0,913.7 1278.5,908.0 1279.7,920.5 1285.4,922.8 1286.5,933.1 1287.7,926.2 1293.3,936.5 1295.6,946.7 1298.6,961.6" fill="none" stroke="#1f77b4" stroke-width="2.8" stroke-linejoin="round" stroke-linecap="butt"/><line x1="1497.00" y1="813.10" x2="1497.00" y2="1258.50" stroke="#eee" stroke-width="1.4"/><line x1="1701.40" y1="813.10" x2="1701.40" y2="1258.50" stroke="#eee" stroke-width="1.4"/><line x1="1905.80" y1="813.10" x2="1905.80" y2="1258.50" stroke="#eee" stroke-width="1.4"/><line x1="2110.20" y1="813.10" x2="2110.20" y2="1258.50" stroke="#eee" stroke-width="1.4"/><line x1="2314.60" y1="813.10" x2="2314.60" y2="1258.50" stroke="#eee" stroke-width="1.4"/><line x1="2519.00" y1="813.10" x2="2519.00" y2="1258.50" stroke="#eee" stroke-width="1.4"/><line x1="1484.00" y1="1209.60" x2="2668.00" y2="1209.60" stroke="#eee" stroke-width="1.4"/><line x1="1484.00" y1="1124.73" x2="2668.00" y2="1124.73" stroke="#eee" stroke-width="1.4"/><line x1="1484.00" y1="1039.85" x2="2668.00" y2="1039.85" stroke="#eee" stroke-width="1.4"/><line x1="1484.00" y1="954.98" x2="2668.00" y2="954.98" stroke="#eee" stroke-width="1.4"/><line x1="1484.00" y1="870.10" x2="2668.00" y2="870.10" stroke="#eee" stroke-width="1.4"/><text x="1497.00" y="1276.90" text-anchor="middle" class="tk">230</text><text x="1701.40" y="1276.90" text-anchor="middle" class="tk">235</text><text x="1905.80" y="1276.90" text-anchor="middle" class="tk">240</text><text x="2110.20" y="1276.90" text-anchor="middle" class="tk">245</text><text x="2314.60" y="1276.90" text-anchor="middle" class="tk">250</text><text x="2519.00" y="1276.90" text-anchor="middle" class="tk">255</text><text x="1482.10" y="1215.50" text-anchor="end" class="tk">4.063</text><text x="1482.10" y="1130.63" text-anchor="end" class="tk">4.064</text><text x="1482.10" y="1045.75" text-anchor="end" class="tk">4.065</text><text x="1482.10" y="960.88" text-anchor="end" class="tk">4.066</text><text x="1482.10" y="876.00" text-anchor="end" class="tk">4.067</text><text x="2076.35" y="785.00" text-anchor="middle" class="ti">Amplitude vs Period (Averaged)</text><text x="2076.00" y="1308.90" text-anchor="middle" class="ax">Amplitude (degrees)</text><text transform="translate(1433.30,1035.80) rotate(-90)" text-anchor="middle" class="ax">Period (s)</text><clipPath id="c4"><rect x="1484.00" y="813.10" width="1184.00" height="445.40"/></clipPath><g clip-path="url(#c4)" fill="#1f77b4"><circle cx="1837.0" cy="896.0" r="4.1"/><circle cx="1818.2" cy="885.0" r="4.1"/><circle cx="1799.4" cy="877.1" r="4.1"/><circle cx="1780.7" cy="870.0" r="4.1"/><circle cx="1761.9" cy="866.4" r="4.1"/><circle cx="1745.0" cy="865.1" r="4.1"/><circle cx="1738.8" cy="861.9" r="4.1"/><circle cx="1732.5" cy="858.5" r="4.1"/><circle cx="1726.2" cy="858.5" r="4.1"/><circle cx="1719.9" cy="856.7" r="4.1"/><circle cx="1713.6" cy="853.5" r="4.1"/><circle cx="1707.4" cy="851.6" r="4.1"/><circle cx="1701.1" cy="849.9" r="4.1"/><circle cx="1697.0" cy="849.5" r="4.1"/><circle cx="1694.9" cy="847.6" r="4.1"/><circle cx="1692.9" cy="845.9" r="4.1"/><circle cx="1690.8" cy="847.2" r="4.1"/><circle cx="1688.7" cy="845.3" r="4.1"/><circle cx="1686.7" cy="846.0" r="4.1"/><circle cx="1684.6" cy="844.4" r="4.1"/><circle cx="1682.5" cy="844.1" r="4.1"/><circle cx="1680.4" cy="841.4" r="4.1"/><circle cx="1681.1" cy="841.8" r="4.1"/><circle cx="1683.1" cy="840.3" r="4.1"/><circle cx="1685.2" cy="840.7" r="4.1"/><circle cx="1687.3" cy="841.3" r="4.1"/><circle cx="1689.4" cy="844.1" r="4.1"/><circle cx="1691.4" cy="842.1" r="4.1"/><circle cx="1693.5" cy="842.0" r="4.1"/><circle cx="1695.6" cy="842.7" r="4.1"/><circle cx="1697.7" cy="845.3" r="4.1"/><circle cx="1700.5" cy="845.1" r="4.1"/><circle cx="1703.5" cy="846.5" r="4.1"/><circle cx="1706.5" cy="847.1" r="4.1"/><circle cx="1709.5" cy="845.9" r="4.1"/><circle cx="1712.5" cy="848.8" r="4.1"/><circle cx="1715.5" cy="848.9" r="4.1"/><circle cx="1718.5" cy="848.7" r="4.1"/><circle cx="1721.5" cy="851.2" r="4.1"/><circle cx="1724.6" cy="851.5" r="4.1"/><circle cx="1727.6" cy="852.4" r="4.1"/><circle cx="1730.6" cy="853.7" r="4.1"/><circle cx="1733.6" cy="856.3" r="4.1"/><circle cx="1736.6" cy="856.1" r="4.1"/><circle cx="1739.6" cy="855.9" r="4.1"/><circle cx="1742.6" cy="860.3" r="4.1"/><circle cx="1745.5" cy="858.8" r="4.1"/><circle cx="1748.2" cy="860.8" r="4.1"/><circle cx="1751.0" cy="862.9" r="4.1"/><circle cx="1753.8" cy="861.1" r="4.1"/><circle cx="1756.5" cy="863.7" r="4.1"/><circle cx="1759.3" cy="867.1" r="4.1"/><circle cx="1762.1" cy="866.8" r="4.1"/><circle cx="1764.8" cy="867.3" r="4.1"/><circle cx="1767.6" cy="869.1" r="4.1"/><circle cx="1770.4" cy="869.2" r="4.1"/><circle cx="1773.2" cy="871.1" r="4.1"/><circle cx="1775.9" cy="871.3" r="4.1"/><circle cx="1778.7" cy="871.4" r="4.1"/><circle cx="1781.5" cy="874.8" r="4.1"/><circle cx="1783.6" cy="874.9" r="4.1"/><circle cx="1785.5" cy="876.6" r="4.1"/><circle cx="1787.4" cy="877.0" r="4.1"/><circle cx="1789.4" cy="879.5" r="4.1"/><circle cx="1791.3" cy="879.8" r="4.1"/><circle cx="1793.3" cy="880.4" r="4.1"/><circle cx="1795.2" cy="880.2" r="4.1"/><circle cx="1797.2" cy="881.0" r="4.1"/><circle cx="1799.1" cy="884.7" r="4.1"/><circle cx="1801.1" cy="885.2" r="4.1"/><circle cx="1803.0" cy="884.4" r="4.1"/><circle cx="1804.9" cy="888.1" r="4.1"/><circle cx="1806.9" cy="887.1" r="4.1"/><circle cx="1808.8" cy="887.5" r="4.1"/><circle cx="1810.8" cy="886.7" r="4.1"/><circle cx="1812.7" cy="888.1" r="4.1"/><circle cx="1814.2" cy="889.9" r="4.1"/><circle cx="1814.9" cy="890.7" r="4.1"/><circle cx="1815.5" cy="891.3" r="4.1"/><circle cx="1816.1" cy="890.1" r="4.1"/><circle cx="1816.7" cy="893.0" r="4.1"/><circle cx="1817.4" cy="893.6" r="4.1"/><circle cx="1818.0" cy="893.6" r="4.1"/><circle cx="1818.6" cy="894.8" r="4.1"/><circle cx="1819.2" cy="895.7" r="4.1"/><circle cx="1819.9" cy="897.5" r="4.1"/><circle cx="1820.4" cy="897.3" r="4.1"/><circle cx="1820.4" cy="898.8" r="4.1"/><circle cx="1820.4" cy="898.0" r="4.1"/><circle cx="1820.4" cy="899.6" r="4.1"/><circle cx="1820.4" cy="901.3" r="4.1"/><circle cx="1820.4" cy="901.5" r="4.1"/><circle cx="1820.4" cy="903.7" r="4.1"/><circle cx="1820.4" cy="903.1" r="4.1"/><circle cx="1819.4" cy="905.3" r="4.1"/><circle cx="1817.7" cy="905.6" r="4.1"/><circle cx="1816.0" cy="908.3" r="4.1"/><circle cx="1814.2" cy="907.1" r="4.1"/><circle cx="1812.5" cy="910.0" r="4.1"/><circle cx="1810.8" cy="911.0" r="4.1"/><circle cx="1809.1" cy="909.7" r="4.1"/><circle cx="1807.4" cy="911.0" r="4.1"/><circle cx="1805.7" cy="910.4" r="4.1"/><circle cx="1804.0" cy="908.3" r="4.1"/><circle cx="1802.3" cy="911.8" r="4.1"/><circle cx="1800.6" cy="911.6" r="4.1"/><circle cx="1798.9" cy="910.7" r="4.1"/><circle cx="1795.6" cy="910.4" r="4.1"/><circle cx="1792.3" cy="911.2" r="4.1"/><circle cx="1788.9" cy="911.3" r="4.1"/><circle cx="1785.6" cy="910.6" r="4.1"/><circle cx="1782.3" cy="914.0" r="4.1"/><circle cx="1779.0" cy="918.9" r="4.1"/><circle cx="1775.6" cy="919.1" r="4.1"/><circle cx="1772.3" cy="918.9" r="4.1"/><circle cx="1769.0" cy="920.0" r="4.1"/><circle cx="1765.7" cy="918.5" r="4.1"/><circle cx="1761.2" cy="919.6" r="4.1"/><circle cx="1756.4" cy="917.5" r="4.1"/><circle cx="1751.7" cy="918.3" r="4.1"/><circle cx="1747.0" cy="918.3" r="4.1"/><circle cx="1742.2" cy="919.0" r="4.1"/><circle cx="1737.5" cy="918.4" r="4.1"/><circle cx="1732.8" cy="920.2" r="4.1"/><circle cx="1728.1" cy="918.7" r="4.1"/><circle cx="1723.3" cy="916.6" r="4.1"/><circle cx="1718.6" cy="918.8" r="4.1"/><circle cx="1713.2" cy="915.1" r="4.1"/><circle cx="1707.5" cy="917.4" r="4.1"/><circle cx="1701.8" cy="914.2" r="4.1"/><circle cx="1696.1" cy="915.4" r="4.1"/><circle cx="1690.4" cy="913.1" r="4.1"/><circle cx="1684.7" cy="913.4" r="4.1"/><circle cx="1679.0" cy="914.7" r="4.1"/><circle cx="1673.3" cy="911.1" r="4.1"/><circle cx="1667.6" cy="910.4" r="4.1"/><circle cx="1662.0" cy="910.7" r="4.1"/><circle cx="1656.3" cy="909.4" r="4.1"/><circle cx="1650.6" cy="907.7" r="4.1"/><circle cx="1644.9" cy="907.0" r="4.1"/><circle cx="1639.2" cy="903.2" r="4.1"/><circle cx="1633.5" cy="903.7" r="4.1"/><circle cx="1627.8" cy="901.9" r="4.1"/><circle cx="1622.1" cy="901.6" r="4.1"/><circle cx="1616.4" cy="900.2" r="4.1"/><circle cx="1610.7" cy="899.7" r="4.1"/><circle cx="1605.1" cy="895.7" r="4.1"/><circle cx="1600.6" cy="896.1" r="4.1"/><circle cx="1597.5" cy="893.6" r="4.1"/><circle cx="1594.3" cy="893.5" r="4.1"/><circle cx="1591.2" cy="893.1" r="4.1"/><circle cx="1588.1" cy="891.5" r="4.1"/><circle cx="1584.9" cy="890.5" r="4.1"/><circle cx="1581.8" cy="888.7" r="4.1"/><circle cx="1578.7" cy="888.3" r="4.1"/><circle cx="1575.5" cy="887.3" r="4.1"/><circle cx="1572.4" cy="887.6" r="4.1"/><circle cx="1569.8" cy="886.1" r="4.1"/><circle cx="1567.7" cy="882.5" r="4.1"/><circle cx="1565.5" cy="884.2" r="4.1"/><circle cx="1563.4" cy="883.7" r="4.1"/><circle cx="1561.3" cy="881.3" r="4.1"/><circle cx="1559.1" cy="879.3" r="4.1"/><circle cx="1557.0" cy="881.6" r="4.1"/><circle cx="1554.9" cy="878.5" r="4.1"/><circle cx="1552.7" cy="877.3" r="4.1"/><circle cx="1550.6" cy="876.9" r="4.1"/><circle cx="1549.4" cy="872.4" r="4.1"/><circle cx="1549.7" cy="871.6" r="4.1"/><circle cx="1550.0" cy="871.2" r="4.1"/><circle cx="1550.2" cy="871.8" r="4.1"/><circle cx="1550.5" cy="870.2" r="4.1"/><circle cx="1550.8" cy="871.0" r="4.1"/><circle cx="1551.0" cy="870.3" r="4.1"/><circle cx="1551.3" cy="871.1" r="4.1"/><circle cx="1551.6" cy="870.9" r="4.1"/><circle cx="1552.9" cy="867.9" r="4.1"/><circle cx="1555.4" cy="869.6" r="4.1"/><circle cx="1557.8" cy="868.4" r="4.1"/><circle cx="1560.2" cy="869.3" r="4.1"/><circle cx="1562.7" cy="870.4" r="4.1"/><circle cx="1565.1" cy="871.1" r="4.1"/><circle cx="1567.5" cy="870.5" r="4.1"/><circle cx="1570.0" cy="872.2" r="4.1"/><circle cx="1572.4" cy="872.7" r="4.1"/><circle cx="1576.4" cy="872.3" r="4.1"/><circle cx="1581.4" cy="870.1" r="4.1"/><circle cx="1586.3" cy="869.7" r="4.1"/><circle cx="1591.2" cy="869.1" r="4.1"/><circle cx="1596.1" cy="870.7" r="4.1"/><circle cx="1601.1" cy="872.5" r="4.1"/><circle cx="1606.0" cy="870.9" r="4.1"/><circle cx="1610.9" cy="871.8" r="4.1"/><circle cx="1615.8" cy="873.9" r="4.1"/><circle cx="1620.8" cy="874.1" r="4.1"/><circle cx="1625.7" cy="874.8" r="4.1"/><circle cx="1630.6" cy="875.8" r="4.1"/><circle cx="1635.5" cy="877.2" r="4.1"/><circle cx="1640.5" cy="880.3" r="4.1"/><circle cx="1645.4" cy="879.7" r="4.1"/><circle cx="1651.6" cy="884.3" r="4.1"/><circle cx="1659.0" cy="883.5" r="4.1"/><circle cx="1666.3" cy="884.6" r="4.1"/><circle cx="1673.6" cy="884.9" r="4.1"/><circle cx="1681.0" cy="884.5" r="4.1"/><circle cx="1688.3" cy="885.7" r="4.1"/><circle cx="1695.7" cy="889.3" r="4.1"/><circle cx="1703.0" cy="890.6" r="4.1"/><circle cx="1710.3" cy="888.6" r="4.1"/><circle cx="1717.7" cy="892.2" r="4.1"/><circle cx="1725.0" cy="893.4" r="4.1"/><circle cx="1732.4" cy="894.8" r="4.1"/><circle cx="1739.7" cy="899.8" r="4.1"/><circle cx="1746.5" cy="902.7" r="4.1"/><circle cx="1753.2" cy="902.4" r="4.1"/><circle cx="1759.8" cy="905.0" r="4.1"/><circle cx="1766.5" cy="907.6" r="4.1"/><circle cx="1773.2" cy="909.8" r="4.1"/><circle cx="1779.8" cy="913.2" r="4.1"/><circle cx="1786.5" cy="916.4" r="4.1"/><circle cx="1793.1" cy="917.4" r="4.1"/><circle cx="1799.8" cy="920.7" r="4.1"/><circle cx="1806.5" cy="923.9" r="4.1"/><circle cx="1813.1" cy="924.0" r="4.1"/><circle cx="1819.8" cy="927.1" r="4.1"/><circle cx="1826.5" cy="929.0" r="4.1"/><circle cx="1833.1" cy="933.0" r="4.1"/><circle cx="1839.8" cy="934.8" r="4.1"/><circle cx="1846.7" cy="937.1" r="4.1"/><circle cx="1853.7" cy="939.0" r="4.1"/><circle cx="1860.6" cy="939.8" r="4.1"/><circle cx="1867.6" cy="942.9" r="4.1"/><circle cx="1874.6" cy="943.7" r="4.1"/><circle cx="1881.6" cy="945.7" r="4.1"/><circle cx="1888.5" cy="945.8" r="4.1"/><circle cx="1895.5" cy="951.6" r="4.1"/><circle cx="1902.5" cy="951.1" r="4.1"/><circle cx="1909.5" cy="954.2" r="4.1"/><circle cx="1916.5" cy="956.1" r="4.1"/><circle cx="1923.4" cy="959.7" r="4.1"/><circle cx="1930.4" cy="960.6" r="4.1"/><circle cx="1937.4" cy="961.3" r="4.1"/><circle cx="1944.4" cy="964.2" r="4.1"/><circle cx="1949.6" cy="966.0" r="4.1"/><circle cx="1953.7" cy="968.4" r="4.1"/><circle cx="1957.7" cy="967.3" r="4.1"/><circle cx="1961.7" cy="969.2" r="4.1"/><circle cx="1965.8" cy="972.1" r="4.1"/><circle cx="1969.8" cy="970.9" r="4.1"/><circle cx="1973.8" cy="972.9" r="4.1"/><circle cx="1977.8" cy="975.0" r="4.1"/><circle cx="1981.9" cy="972.7" r="4.1"/><circle cx="1985.9" cy="971.4" r="4.1"/><circle cx="1989.5" cy="973.5" r="4.1"/><circle cx="1992.5" cy="975.6" r="4.1"/><circle cx="1995.5" cy="976.0" r="4.1"/><circle cx="1998.5" cy="974.5" r="4.1"/><circle cx="2001.5" cy="976.2" r="4.1"/><circle cx="2004.5" cy="977.1" r="4.1"/><circle cx="2007.5" cy="977.9" r="4.1"/><circle cx="2010.5" cy="978.5" r="4.1"/><circle cx="2013.5" cy="978.4" r="4.1"/><circle cx="2016.5" cy="979.6" r="4.1"/><circle cx="2019.6" cy="981.1" r="4.1"/><circle cx="2022.6" cy="983.7" r="4.1"/><circle cx="2025.6" cy="983.1" r="4.1"/><circle cx="2029.1" cy="985.6" r="4.1"/><circle cx="2032.9" cy="984.8" r="4.1"/><circle cx="2036.7" cy="988.6" r="4.1"/><circle cx="2040.5" cy="988.5" r="4.1"/><circle cx="2044.3" cy="989.2" r="4.1"/><circle cx="2048.1" cy="991.4" r="4.1"/><circle cx="2051.9" cy="988.8" r="4.1"/><circle cx="2055.7" cy="989.8" r="4.1"/><circle cx="2059.5" cy="992.7" r="4.1"/><circle cx="2063.3" cy="992.1" r="4.1"/><circle cx="2065.7" cy="993.3" r="4.1"/><circle cx="2067.1" cy="997.3" r="4.1"/><circle cx="2068.4" cy="994.9" r="4.1"/><circle cx="2069.8" cy="996.0" r="4.1"/><circle cx="2071.2" cy="996.6" r="4.1"/><circle cx="2072.6" cy="998.6" r="4.1"/><circle cx="2074.0" cy="998.5" r="4.1"/><circle cx="2075.4" cy="999.1" r="4.1"/><circle cx="2076.8" cy="998.4" r="4.1"/><circle cx="2078.2" cy="1000.1" r="4.1"/><circle cx="2079.5" cy="1001.2" r="4.1"/><circle cx="2080.7" cy="1000.2" r="4.1"/><circle cx="2080.9" cy="1002.8" r="4.1"/><circle cx="2081.1" cy="1002.9" r="4.1"/><circle cx="2081.3" cy="1004.7" r="4.1"/><circle cx="2081.5" cy="1001.2" r="4.1"/><circle cx="2081.7" cy="1002.2" r="4.1"/><circle cx="2081.9" cy="1002.5" r="4.1"/><circle cx="2082.1" cy="1003.0" r="4.1"/><circle cx="2082.3" cy="1003.9" r="4.1"/><circle cx="2082.1" cy="1004.0" r="4.1"/><circle cx="2080.9" cy="1004.8" r="4.1"/><circle cx="2079.7" cy="1004.3" r="4.1"/><circle cx="2078.6" cy="1003.6" r="4.1"/><circle cx="2077.4" cy="1001.6" r="4.1"/><circle cx="2076.3" cy="1002.2" r="4.1"/><circle cx="2075.1" cy="1002.5" r="4.1"/><circle cx="2073.9" cy="1002.6" r="4.1"/><circle cx="2072.8" cy="1002.3" r="4.1"/><circle cx="2071.6" cy="999.4" r="4.1"/><circle cx="2070.2" cy="1000.2" r="4.1"/><circle cx="2068.2" cy="1000.2" r="4.1"/><circle cx="2066.2" cy="1000.3" r="4.1"/><circle cx="2064.2" cy="1000.7" r="4.1"/><circle cx="2062.2" cy="999.1" r="4.1"/><circle cx="2060.2" cy="997.7" r="4.1"/><circle cx="2058.2" cy="998.6" r="4.1"/><circle cx="2056.2" cy="998.0" r="4.1"/><circle cx="2054.3" cy="997.6" r="4.1"/><circle cx="2052.3" cy="996.8" r="4.1"/><circle cx="2050.3" cy="998.3" r="4.1"/><circle cx="2048.3" cy="996.4" r="4.1"/><circle cx="2044.7" cy="996.7" r="4.1"/><circle cx="2040.8" cy="994.3" r="4.1"/><circle cx="2037.0" cy="995.7" r="4.1"/><circle cx="2033.1" cy="993.8" r="4.1"/><circle cx="2029.3" cy="992.4" r="4.1"/><circle cx="2025.4" cy="994.0" r="4.1"/><circle cx="2021.6" cy="993.9" r="4.1"/><circle cx="2017.7" cy="992.5" r="4.1"/><circle cx="2013.6" cy="991.9" r="4.1"/><circle cx="2008.0" cy="992.2" r="4.1"/><circle cx="2002.3" cy="989.9" r="4.1"/><circle cx="1996.7" cy="987.4" r="4.1"/><circle cx="1991.0" cy="989.1" r="4.1"/><circle cx="1985.4" cy="988.2" r="4.1"/><circle cx="1979.7" cy="988.4" r="4.1"/><circle cx="1974.0" cy="986.1" r="4.1"/><circle cx="1968.4" cy="987.0" r="4.1"/><circle cx="1962.7" cy="986.0" r="4.1"/><circle cx="1957.1" cy="981.8" r="4.1"/><circle cx="1951.4" cy="982.7" r="4.1"/><circle cx="1945.8" cy="979.0" r="4.1"/><circle cx="1940.1" cy="977.0" r="4.1"/><circle cx="1934.5" cy="976.9" r="4.1"/><circle cx="1928.8" cy="975.1" r="4.1"/><circle cx="1922.9" cy="972.0" r="4.1"/><circle cx="1917.1" cy="973.0" r="4.1"/><circle cx="1911.2" cy="972.2" r="4.1"/><circle cx="1905.3" cy="971.8" r="4.1"/><circle cx="1899.4" cy="969.1" r="4.1"/><circle cx="1893.5" cy="966.2" r="4.1"/><circle cx="1887.7" cy="965.6" r="4.1"/><circle cx="1881.8" cy="966.4" r="4.1"/><circle cx="1875.9" cy="965.1" r="4.1"/><circle cx="1870.0" cy="963.5" r="4.1"/><circle cx="1864.1" cy="961.4" r="4.1"/><circle cx="1858.3" cy="960.9" r="4.1"/><circle cx="1852.4" cy="959.6" r="4.1"/><circle cx="1846.6" cy="958.7" r="4.1"/><circle cx="1843.2" cy="958.6" r="4.1"/><circle cx="1839.9" cy="957.5" r="4.1"/><circle cx="1836.6" cy="956.4" r="4.1"/><circle cx="1833.3" cy="956.0" r="4.1"/><circle cx="1829.9" cy="954.5" r="4.1"/><circle cx="1826.6" cy="952.2" r="4.1"/><circle cx="1823.3" cy="952.9" r="4.1"/><circle cx="1820.0" cy="952.7" r="4.1"/><circle cx="1816.6" cy="954.2" r="4.1"/><circle cx="1813.3" cy="951.5" r="4.1"/><circle cx="1811.3" cy="953.6" r="4.1"/><circle cx="1809.4" cy="952.6" r="4.1"/><circle cx="1807.5" cy="949.7" r="4.1"/><circle cx="1805.6" cy="949.4" r="4.1"/><circle cx="1803.7" cy="949.9" r="4.1"/><circle cx="1801.8" cy="951.1" r="4.1"/><circle cx="1799.9" cy="949.2" r="4.1"/><circle cx="1798.0" cy="949.1" r="4.1"/><circle cx="1796.1" cy="947.3" r="4.1"/><circle cx="1795.4" cy="945.2" r="4.1"/><circle cx="1794.7" cy="947.1" r="4.1"/><circle cx="1794.0" cy="947.8" r="4.1"/><circle cx="1793.3" cy="947.9" r="4.1"/><circle cx="1792.6" cy="946.3" r="4.1"/><circle cx="1791.8" cy="946.1" r="4.1"/><circle cx="1791.1" cy="946.8" r="4.1"/><circle cx="1790.4" cy="945.3" r="4.1"/><circle cx="1789.7" cy="947.1" r="4.1"/><circle cx="1789.0" cy="945.0" r="4.1"/><circle cx="1788.3" cy="945.5" r="4.1"/><circle cx="1788.5" cy="945.8" r="4.1"/><circle cx="1789.1" cy="948.0" r="4.1"/><circle cx="1789.8" cy="947.3" r="4.1"/><circle cx="1790.4" cy="948.4" r="4.1"/><circle cx="1791.1" cy="949.1" r="4.1"/><circle cx="1791.7" cy="949.4" r="4.1"/><circle cx="1792.4" cy="950.9" r="4.1"/><circle cx="1793.0" cy="951.5" r="4.1"/><circle cx="1793.7" cy="949.6" r="4.1"/><circle cx="1795.6" cy="951.3" r="4.1"/><circle cx="1797.9" cy="951.5" r="4.1"/><circle cx="1800.2" cy="951.3" r="4.1"/><circle cx="1802.5" cy="954.9" r="4.1"/><circle cx="1804.8" cy="954.5" r="4.1"/><circle cx="1807.1" cy="954.1" r="4.1"/><circle cx="1809.3" cy="954.6" r="4.1"/><circle cx="1811.6" cy="956.4" r="4.1"/><circle cx="1813.9" cy="955.8" r="4.1"/><circle cx="1816.2" cy="957.6" r="4.1"/><circle cx="1819.4" cy="960.1" r="4.1"/><circle cx="1822.9" cy="960.8" r="4.1"/><circle cx="1826.5" cy="959.8" r="4.1"/><circle cx="1830.0" cy="961.0" r="4.1"/><circle cx="1833.6" cy="964.5" r="4.1"/><circle cx="1837.2" cy="961.8" r="4.1"/><circle cx="1840.7" cy="963.5" r="4.1"/><circle cx="1844.3" cy="963.5" r="4.1"/><circle cx="1847.8" cy="966.3" r="4.1"/><circle cx="1851.4" cy="967.1" r="4.1"/><circle cx="1855.3" cy="968.8" r="4.1"/><circle cx="1859.5" cy="965.7" r="4.1"/><circle cx="1863.6" cy="969.5" r="4.1"/><circle cx="1867.8" cy="968.5" r="4.1"/><circle cx="1872.0" cy="971.7" r="4.1"/><circle cx="1876.1" cy="971.6" r="4.1"/><circle cx="1880.3" cy="974.4" r="4.1"/><circle cx="1884.5" cy="973.8" r="4.1"/><circle cx="1888.6" cy="973.1" r="4.1"/><circle cx="1892.8" cy="976.4" r="4.1"/><circle cx="1897.0" cy="974.6" r="4.1"/><circle cx="1901.1" cy="976.2" r="4.1"/><circle cx="1905.3" cy="978.5" r="4.1"/><circle cx="1909.4" cy="978.7" r="4.1"/><circle cx="1913.4" cy="979.3" r="4.1"/><circle cx="1917.4" cy="979.4" r="4.1"/><circle cx="1921.4" cy="980.5" r="4.1"/><circle cx="1925.5" cy="981.3" r="4.1"/><circle cx="1929.5" cy="981.3" r="4.1"/><circle cx="1933.5" cy="982.6" r="4.1"/><circle cx="1937.5" cy="983.5" r="4.1"/><circle cx="1941.6" cy="982.6" r="4.1"/><circle cx="1945.6" cy="982.1" r="4.1"/><circle cx="1949.8" cy="985.3" r="4.1"/><circle cx="1954.1" cy="984.2" r="4.1"/><circle cx="1958.3" cy="985.6" r="4.1"/><circle cx="1962.6" cy="987.2" r="4.1"/><circle cx="1966.9" cy="986.4" r="4.1"/><circle cx="1971.1" cy="989.1" r="4.1"/><circle cx="1975.4" cy="988.2" r="4.1"/><circle cx="1979.6" cy="991.9" r="4.1"/><circle cx="1983.9" cy="991.9" r="4.1"/><circle cx="1988.2" cy="993.8" r="4.1"/><circle cx="1992.4" cy="995.6" r="4.1"/><circle cx="1996.7" cy="995.3" r="4.1"/><circle cx="2000.9" cy="997.4" r="4.1"/><circle cx="2005.2" cy="997.9" r="4.1"/><circle cx="2009.5" cy="1000.0" r="4.1"/><circle cx="2013.7" cy="1002.4" r="4.1"/><circle cx="2018.0" cy="1002.7" r="4.1"/><circle cx="2022.3" cy="1003.9" r="4.1"/><circle cx="2026.5" cy="1004.2" r="4.1"/><circle cx="2030.8" cy="1007.6" r="4.1"/><circle cx="2035.2" cy="1008.0" r="4.1"/><circle cx="2039.8" cy="1011.2" r="4.1"/><circle cx="2044.3" cy="1009.9" r="4.1"/><circle cx="2048.9" cy="1013.1" r="4.1"/><circle cx="2053.5" cy="1015.3" r="4.1"/><circle cx="2058.0" cy="1014.3" r="4.1"/><circle cx="2062.6" cy="1013.7" r="4.1"/><circle cx="2067.2" cy="1017.2" r="4.1"/><circle cx="2071.7" cy="1017.3" r="4.1"/><circle cx="2076.3" cy="1017.6" r="4.1"/><circle cx="2080.9" cy="1018.6" r="4.1"/><circle cx="2085.4" cy="1017.6" r="4.1"/><circle cx="2090.0" cy="1019.5" r="4.1"/><circle cx="2095.2" cy="1020.0" r="4.1"/><circle cx="2100.4" cy="1019.2" r="4.1"/><circle cx="2105.6" cy="1021.5" r="4.1"/><circle cx="2110.9" cy="1021.4" r="4.1"/><circle cx="2116.1" cy="1024.1" r="4.1"/><circle cx="2121.3" cy="1025.6" r="4.1"/><circle cx="2126.5" cy="1027.5" r="4.1"/><circle cx="2131.8" cy="1024.7" r="4.1"/><circle cx="2137.0" cy="1028.3" r="4.1"/><circle cx="2142.2" cy="1028.9" r="4.1"/><circle cx="2144.9" cy="1030.4" r="4.1"/><circle cx="2147.1" cy="1031.2" r="4.1"/><circle cx="2149.4" cy="1032.2" r="4.1"/><circle cx="2151.6" cy="1031.0" r="4.1"/><circle cx="2153.9" cy="1035.2" r="4.1"/><circle cx="2156.2" cy="1036.6" r="4.1"/><circle cx="2158.4" cy="1036.9" r="4.1"/><circle cx="2160.7" cy="1038.1" r="4.1"/><circle cx="2162.9" cy="1036.7" r="4.1"/><circle cx="2165.2" cy="1037.5" r="4.1"/><circle cx="2167.5" cy="1040.3" r="4.1"/><circle cx="2169.7" cy="1041.5" r="4.1"/><circle cx="2172.0" cy="1040.6" r="4.1"/><circle cx="2174.2" cy="1038.9" r="4.1"/><circle cx="2176.5" cy="1043.8" r="4.1"/><circle cx="2177.4" cy="1040.4" r="4.1"/><circle cx="2177.4" cy="1042.4" r="4.1"/><circle cx="2177.4" cy="1040.4" r="4.1"/><circle cx="2177.4" cy="1043.0" r="4.1"/><circle cx="2177.4" cy="1042.3" r="4.1"/><circle cx="2176.5" cy="1043.9" r="4.1"/><circle cx="2175.1" cy="1043.4" r="4.1"/><circle cx="2173.8" cy="1040.0" r="4.1"/><circle cx="2172.4" cy="1039.8" r="4.1"/><circle cx="2171.0" cy="1040.4" r="4.1"/><circle cx="2169.6" cy="1040.1" r="4.1"/><circle cx="2168.2" cy="1040.4" r="4.1"/><circle cx="2166.9" cy="1038.0" r="4.1"/><circle cx="2163.9" cy="1036.8" r="4.1"/><circle cx="2160.9" cy="1036.1" r="4.1"/><circle cx="2157.9" cy="1035.3" r="4.1"/><circle cx="2154.9" cy="1035.6" r="4.1"/><circle cx="2151.9" cy="1033.5" r="4.1"/><circle cx="2148.9" cy="1032.5" r="4.1"/><circle cx="2145.9" cy="1030.1" r="4.1"/><circle cx="2143.0" cy="1028.5" r="4.1"/><circle cx="2140.0" cy="1029.7" r="4.1"/><circle cx="2137.0" cy="1029.4" r="4.1"/><circle cx="2134.0" cy="1027.7" r="4.1"/><circle cx="2131.0" cy="1027.3" r="4.1"/><circle cx="2128.0" cy="1026.5" r="4.1"/><circle cx="2125.0" cy="1024.8" r="4.1"/><circle cx="2122.1" cy="1025.0" r="4.1"/><circle cx="2119.1" cy="1022.3" r="4.1"/><circle cx="2116.1" cy="1022.1" r="4.1"/><circle cx="2112.9" cy="1020.8" r="4.1"/><circle cx="2109.4" cy="1020.4" r="4.1"/><circle cx="2105.8" cy="1020.1" r="4.1"/><circle cx="2102.3" cy="1019.5" r="4.1"/><circle cx="2098.8" cy="1017.8" r="4.1"/><circle cx="2095.2" cy="1017.2" r="4.1"/><circle cx="2091.7" cy="1015.5" r="4.1"/><circle cx="2088.2" cy="1014.8" r="4.1"/><circle cx="2084.7" cy="1015.4" r="4.1"/><circle cx="2081.1" cy="1012.9" r="4.1"/><circle cx="2077.6" cy="1013.6" r="4.1"/><circle cx="2074.1" cy="1012.3" r="4.1"/><circle cx="2070.6" cy="1011.3" r="4.1"/><circle cx="2067.0" cy="1012.7" r="4.1"/><circle cx="2063.5" cy="1009.8" r="4.1"/><circle cx="2060.0" cy="1009.1" r="4.1"/><circle cx="2056.5" cy="1008.9" r="4.1"/><circle cx="2052.9" cy="1008.6" r="4.1"/><circle cx="2049.2" cy="1008.0" r="4.1"/><circle cx="2045.4" cy="1008.1" r="4.1"/><circle cx="2041.6" cy="1006.7" r="4.1"/><circle cx="2037.8" cy="1006.5" r="4.1"/><circle cx="2034.1" cy="1005.2" r="4.1"/><circle cx="2030.3" cy="1006.1" r="4.1"/><circle cx="2026.5" cy="1003.9" r="4.1"/><circle cx="2022.7" cy="1003.7" r="4.1"/><circle cx="2018.9" cy="1003.7" r="4.1"/><circle cx="2015.1" cy="1003.7" r="4.1"/><circle cx="2011.3" cy="1002.3" r="4.1"/><circle cx="2007.5" cy="1004.4" r="4.1"/><circle cx="2003.7" cy="1001.8" r="4.1"/><circle cx="1999.6" cy="1001.7" r="4.1"/><circle cx="1995.5" cy="1001.4" r="4.1"/><circle cx="1991.4" cy="1000.9" r="4.1"/><circle cx="1987.3" cy="1001.7" r="4.1"/><circle cx="1983.3" cy="1001.0" r="4.1"/><circle cx="1979.2" cy="999.7" r="4.1"/><circle cx="1975.1" cy="999.6" r="4.1"/><circle cx="1971.0" cy="1000.0" r="4.1"/><circle cx="1966.9" cy="1003.3" r="4.1"/><circle cx="1962.8" cy="1002.5" r="4.1"/><circle cx="1958.7" cy="1003.2" r="4.1"/><circle cx="1954.7" cy="1004.1" r="4.1"/><circle cx="1950.6" cy="1005.1" r="4.1"/><circle cx="1946.5" cy="1007.2" r="4.1"/><circle cx="1942.4" cy="1004.6" r="4.1"/><circle cx="1940.6" cy="1005.9" r="4.1"/><circle cx="1939.5" cy="1008.7" r="4.1"/><circle cx="1938.3" cy="1005.6" r="4.1"/><circle cx="1937.2" cy="1007.8" r="4.1"/><circle cx="1936.0" cy="1007.7" r="4.1"/><circle cx="1935.8" cy="1007.1" r="4.1"/><circle cx="1935.9" cy="1005.2" r="4.1"/><circle cx="1935.9" cy="1007.1" r="4.1"/><circle cx="1935.9" cy="1006.6" r="4.1"/><circle cx="1936.0" cy="1005.4" r="4.1"/><circle cx="1936.0" cy="1006.1" r="4.1"/><circle cx="1936.1" cy="1008.5" r="4.1"/><circle cx="1936.1" cy="1009.1" r="4.1"/><circle cx="1936.2" cy="1010.8" r="4.1"/><circle cx="1936.2" cy="1010.6" r="4.1"/><circle cx="1936.3" cy="1009.9" r="4.1"/><circle cx="1936.3" cy="1010.4" r="4.1"/><circle cx="1936.4" cy="1011.3" r="4.1"/><circle cx="1936.4" cy="1010.8" r="4.1"/><circle cx="1936.5" cy="1013.3" r="4.1"/><circle cx="1936.5" cy="1013.0" r="4.1"/><circle cx="1936.5" cy="1012.6" r="4.1"/><circle cx="1936.6" cy="1013.3" r="4.1"/><circle cx="1936.6" cy="1013.2" r="4.1"/><circle cx="1936.7" cy="1014.5" r="4.1"/><circle cx="1936.7" cy="1015.8" r="4.1"/><circle cx="1936.8" cy="1015.5" r="4.1"/><circle cx="1936.8" cy="1017.4" r="4.1"/><circle cx="1936.8" cy="1018.4" r="4.1"/><circle cx="1936.7" cy="1016.3" r="4.1"/><circle cx="1936.7" cy="1017.4" r="4.1"/><circle cx="1936.6" cy="1017.3" r="4.1"/><circle cx="1936.6" cy="1019.9" r="4.1"/><circle cx="1936.5" cy="1018.7" r="4.1"/><circle cx="1936.5" cy="1019.4" r="4.1"/><circle cx="1936.4" cy="1020.0" r="4.1"/><circle cx="1936.4" cy="1021.8" r="4.1"/><circle cx="1936.3" cy="1018.2" r="4.1"/><circle cx="1936.2" cy="1015.4" r="4.1"/><circle cx="1936.2" cy="1014.6" r="4.1"/><circle cx="1936.1" cy="1014.8" r="4.1"/><circle cx="1936.1" cy="1014.6" r="4.1"/><circle cx="1936.0" cy="1014.3" r="4.1"/><circle cx="1936.0" cy="1018.6" r="4.1"/><circle cx="1935.9" cy="1016.2" r="4.1"/><circle cx="1935.9" cy="1015.9" r="4.1"/><circle cx="1935.8" cy="1016.2" r="4.1"/><circle cx="1935.8" cy="1015.6" r="4.1"/><circle cx="1937.4" cy="1016.1" r="4.1"/><circle cx="1939.4" cy="1016.6" r="4.1"/><circle cx="1941.4" cy="1016.2" r="4.1"/><circle cx="1943.4" cy="1015.2" r="4.1"/><circle cx="1945.4" cy="1016.3" r="4.1"/><circle cx="1947.4" cy="1015.3" r="4.1"/><circle cx="1949.4" cy="1014.1" r="4.1"/><circle cx="1951.4" cy="1013.3" r="4.1"/><circle cx="1953.4" cy="1016.0" r="4.1"/><circle cx="1955.4" cy="1016.3" r="4.1"/><circle cx="1958.8" cy="1016.4" r="4.1"/><circle cx="1962.7" cy="1015.5" r="4.1"/><circle cx="1966.6" cy="1017.4" r="4.1"/><circle cx="1970.6" cy="1016.1" r="4.1"/><circle cx="1974.5" cy="1019.2" r="4.1"/><circle cx="1978.4" cy="1018.7" r="4.1"/><circle cx="1982.3" cy="1019.1" r="4.1"/><circle cx="1986.2" cy="1018.4" r="4.1"/><circle cx="1990.1" cy="1018.5" r="4.1"/><circle cx="1994.0" cy="1021.7" r="4.1"/><circle cx="1997.9" cy="1021.4" r="4.1"/><circle cx="2001.8" cy="1020.3" r="4.1"/><circle cx="2005.8" cy="1021.7" r="4.1"/><circle cx="2009.7" cy="1023.0" r="4.1"/><circle cx="2013.6" cy="1020.5" r="4.1"/><circle cx="2017.5" cy="1021.4" r="4.1"/><circle cx="2021.4" cy="1021.8" r="4.1"/><circle cx="2025.3" cy="1023.1" r="4.1"/><circle cx="2029.0" cy="1021.8" r="4.1"/><circle cx="2032.7" cy="1023.5" r="4.1"/><circle cx="2036.4" cy="1022.4" r="4.1"/><circle cx="2040.1" cy="1024.9" r="4.1"/><circle cx="2043.8" cy="1025.4" r="4.1"/><circle cx="2047.5" cy="1024.8" r="4.1"/><circle cx="2051.2" cy="1026.3" r="4.1"/><circle cx="2054.8" cy="1025.4" r="4.1"/><circle cx="2058.5" cy="1026.4" r="4.1"/><circle cx="2062.2" cy="1028.2" r="4.1"/><circle cx="2065.9" cy="1027.7" r="4.1"/><circle cx="2069.6" cy="1028.7" r="4.1"/><circle cx="2073.3" cy="1027.8" r="4.1"/><circle cx="2077.0" cy="1030.1" r="4.1"/><circle cx="2080.7" cy="1030.4" r="4.1"/><circle cx="2084.4" cy="1029.7" r="4.1"/><circle cx="2088.0" cy="1029.9" r="4.1"/><circle cx="2091.7" cy="1031.5" r="4.1"/><circle cx="2095.4" cy="1034.9" r="4.1"/><circle cx="2099.1" cy="1036.1" r="4.1"/><circle cx="2102.8" cy="1035.9" r="4.1"/><circle cx="2106.5" cy="1039.1" r="4.1"/><circle cx="2110.2" cy="1041.3" r="4.1"/><circle cx="2114.0" cy="1041.4" r="4.1"/><circle cx="2117.8" cy="1042.4" r="4.1"/><circle cx="2121.6" cy="1045.2" r="4.1"/><circle cx="2125.5" cy="1047.6" r="4.1"/><circle cx="2129.3" cy="1048.9" r="4.1"/><circle cx="2133.1" cy="1048.1" r="4.1"/><circle cx="2136.9" cy="1051.1" r="4.1"/><circle cx="2140.7" cy="1052.0" r="4.1"/><circle cx="2144.5" cy="1053.1" r="4.1"/><circle cx="2148.3" cy="1054.1" r="4.1"/><circle cx="2152.1" cy="1056.7" r="4.1"/><circle cx="2155.9" cy="1057.9" r="4.1"/><circle cx="2159.7" cy="1061.8" r="4.1"/><circle cx="2163.6" cy="1063.6" r="4.1"/><circle cx="2167.4" cy="1066.7" r="4.1"/><circle cx="2171.0" cy="1064.5" r="4.1"/><circle cx="2174.7" cy="1066.0" r="4.1"/><circle cx="2178.4" cy="1066.9" r="4.1"/><circle cx="2182.1" cy="1066.7" r="4.1"/><circle cx="2185.8" cy="1066.7" r="4.1"/><circle cx="2189.5" cy="1066.4" r="4.1"/><circle cx="2193.2" cy="1069.7" r="4.1"/><circle cx="2196.9" cy="1069.9" r="4.1"/><circle cx="2200.6" cy="1070.0" r="4.1"/><circle cx="2204.2" cy="1067.5" r="4.1"/><circle cx="2205.0" cy="1070.1" r="4.1"/><circle cx="2205.7" cy="1072.0" r="4.1"/><circle cx="2206.5" cy="1071.9" r="4.1"/><circle cx="2207.2" cy="1071.2" r="4.1"/><circle cx="2208.0" cy="1074.5" r="4.1"/><circle cx="2208.7" cy="1075.5" r="4.1"/><circle cx="2209.5" cy="1073.0" r="4.1"/><circle cx="2210.2" cy="1071.7" r="4.1"/><circle cx="2210.7" cy="1069.4" r="4.1"/><circle cx="2211.1" cy="1070.3" r="4.1"/><circle cx="2211.6" cy="1067.3" r="4.1"/><circle cx="2212.1" cy="1067.1" r="4.1"/><circle cx="2212.6" cy="1068.0" r="4.1"/><circle cx="2213.1" cy="1067.6" r="4.1"/><circle cx="2213.6" cy="1070.2" r="4.1"/><circle cx="2214.1" cy="1066.9" r="4.1"/><circle cx="2214.6" cy="1067.4" r="4.1"/><circle cx="2215.0" cy="1066.4" r="4.1"/><circle cx="2215.2" cy="1065.8" r="4.1"/><circle cx="2215.3" cy="1066.7" r="4.1"/><circle cx="2215.5" cy="1068.0" r="4.1"/><circle cx="2215.7" cy="1065.6" r="4.1"/><circle cx="2215.9" cy="1066.6" r="4.1"/><circle cx="2216.0" cy="1066.0" r="4.1"/><circle cx="2216.2" cy="1066.1" r="4.1"/><circle cx="2216.4" cy="1065.7" r="4.1"/><circle cx="2216.5" cy="1067.7" r="4.1"/><circle cx="2216.7" cy="1063.6" r="4.1"/><circle cx="2216.9" cy="1064.5" r="4.1"/><circle cx="2217.0" cy="1063.8" r="4.1"/><circle cx="2217.2" cy="1063.2" r="4.1"/><circle cx="2217.4" cy="1065.7" r="4.1"/><circle cx="2217.6" cy="1068.1" r="4.1"/><circle cx="2217.7" cy="1067.4" r="4.1"/><circle cx="2217.9" cy="1068.1" r="4.1"/><circle cx="2218.1" cy="1067.7" r="4.1"/><circle cx="2218.2" cy="1067.2" r="4.1"/><circle cx="2218.4" cy="1068.5" r="4.1"/><circle cx="2218.6" cy="1065.0" r="4.1"/><circle cx="2218.7" cy="1066.0" r="4.1"/><circle cx="2218.9" cy="1063.1" r="4.1"/><circle cx="2219.1" cy="1062.7" r="4.1"/><circle cx="2219.3" cy="1062.7" r="4.1"/><circle cx="2219.4" cy="1062.2" r="4.1"/><circle cx="2219.6" cy="1062.5" r="4.1"/><circle cx="2219.4" cy="1062.4" r="4.1"/><circle cx="2218.8" cy="1063.3" r="4.1"/><circle cx="2218.1" cy="1061.3" r="4.1"/><circle cx="2217.5" cy="1057.9" r="4.1"/><circle cx="2216.9" cy="1056.2" r="4.1"/><circle cx="2216.2" cy="1055.3" r="4.1"/><circle cx="2215.6" cy="1054.4" r="4.1"/><circle cx="2214.9" cy="1054.3" r="4.1"/><circle cx="2214.3" cy="1051.3" r="4.1"/><circle cx="2213.6" cy="1052.4" r="4.1"/><circle cx="2213.0" cy="1052.0" r="4.1"/><circle cx="2212.3" cy="1051.7" r="4.1"/><circle cx="2211.7" cy="1050.8" r="4.1"/><circle cx="2211.1" cy="1051.0" r="4.1"/><circle cx="2210.4" cy="1050.1" r="4.1"/><circle cx="2210.0" cy="1050.9" r="4.1"/><circle cx="2210.3" cy="1051.0" r="4.1"/><circle cx="2210.5" cy="1048.9" r="4.1"/><circle cx="2210.7" cy="1052.3" r="4.1"/><circle cx="2210.9" cy="1053.4" r="4.1"/><circle cx="2211.1" cy="1053.4" r="4.1"/><circle cx="2211.4" cy="1054.0" r="4.1"/><circle cx="2211.6" cy="1055.8" r="4.1"/><circle cx="2211.8" cy="1054.3" r="4.1"/><circle cx="2212.0" cy="1052.6" r="4.1"/><circle cx="2212.2" cy="1052.8" r="4.1"/><circle cx="2212.5" cy="1052.5" r="4.1"/><circle cx="2212.7" cy="1050.5" r="4.1"/><circle cx="2212.9" cy="1053.0" r="4.1"/><circle cx="2213.1" cy="1052.7" r="4.1"/><circle cx="2213.3" cy="1053.9" r="4.1"/><circle cx="2213.6" cy="1052.2" r="4.1"/><circle cx="2213.8" cy="1056.5" r="4.1"/><circle cx="2214.0" cy="1055.7" r="4.1"/><circle cx="2214.2" cy="1056.1" r="4.1"/><circle cx="2214.4" cy="1055.3" r="4.1"/><circle cx="2214.6" cy="1055.9" r="4.1"/><circle cx="2214.9" cy="1057.3" r="4.1"/><circle cx="2214.6" cy="1063.7" r="4.1"/><circle cx="2214.0" cy="1064.2" r="4.1"/><circle cx="2213.5" cy="1068.5" r="4.1"/><circle cx="2212.9" cy="1070.2" r="4.1"/><circle cx="2212.3" cy="1070.2" r="4.1"/><circle cx="2211.7" cy="1073.0" r="4.1"/><circle cx="2211.1" cy="1075.6" r="4.1"/><circle cx="2210.5" cy="1074.9" r="4.1"/><circle cx="2210.0" cy="1077.4" r="4.1"/><circle cx="2209.4" cy="1077.4" r="4.1"/><circle cx="2208.8" cy="1077.0" r="4.1"/><circle cx="2208.2" cy="1077.8" r="4.1"/><circle cx="2207.6" cy="1077.1" r="4.1"/><circle cx="2205.5" cy="1079.7" r="4.1"/><circle cx="2203.4" cy="1081.9" r="4.1"/><circle cx="2201.2" cy="1081.7" r="4.1"/><circle cx="2199.0" cy="1082.6" r="4.1"/><circle cx="2196.9" cy="1083.3" r="4.1"/><circle cx="2194.7" cy="1081.8" r="4.1"/><circle cx="2192.6" cy="1083.4" r="4.1"/><circle cx="2190.4" cy="1085.2" r="4.1"/><circle cx="2188.2" cy="1082.7" r="4.1"/><circle cx="2186.1" cy="1083.3" r="4.1"/><circle cx="2183.9" cy="1082.4" r="4.1"/><circle cx="2181.8" cy="1082.4" r="4.1"/><circle cx="2179.6" cy="1081.5" r="4.1"/><circle cx="2177.5" cy="1081.8" r="4.1"/><circle cx="2175.3" cy="1080.1" r="4.1"/><circle cx="2173.1" cy="1080.7" r="4.1"/><circle cx="2171.0" cy="1080.4" r="4.1"/><circle cx="2168.8" cy="1080.0" r="4.1"/><circle cx="2166.7" cy="1081.6" r="4.1"/><circle cx="2163.6" cy="1079.7" r="4.1"/><circle cx="2160.5" cy="1079.3" r="4.1"/><circle cx="2157.4" cy="1078.2" r="4.1"/><circle cx="2154.3" cy="1079.5" r="4.1"/><circle cx="2151.2" cy="1075.7" r="4.1"/><circle cx="2148.1" cy="1077.5" r="4.1"/><circle cx="2145.0" cy="1079.4" r="4.1"/><circle cx="2141.9" cy="1080.5" r="4.1"/><circle cx="2138.9" cy="1079.4" r="4.1"/><circle cx="2135.8" cy="1079.6" r="4.1"/><circle cx="2133.3" cy="1080.1" r="4.1"/><circle cx="2131.0" cy="1078.6" r="4.1"/><circle cx="2128.7" cy="1078.9" r="4.1"/><circle cx="2126.4" cy="1077.1" r="4.1"/><circle cx="2124.1" cy="1077.9" r="4.1"/><circle cx="2121.8" cy="1076.6" r="4.1"/><circle cx="2119.5" cy="1075.0" r="4.1"/><circle cx="2117.1" cy="1072.7" r="4.1"/><circle cx="2114.8" cy="1075.8" r="4.1"/><circle cx="2112.5" cy="1074.4" r="4.1"/><circle cx="2110.2" cy="1074.0" r="4.1"/><circle cx="2107.7" cy="1071.4" r="4.1"/><circle cx="2104.9" cy="1072.8" r="4.1"/><circle cx="2102.2" cy="1071.3" r="4.1"/><circle cx="2099.4" cy="1070.0" r="4.1"/><circle cx="2096.7" cy="1070.4" r="4.1"/><circle cx="2093.9" cy="1070.1" r="4.1"/><circle cx="2091.2" cy="1069.2" r="4.1"/><circle cx="2088.4" cy="1070.7" r="4.1"/><circle cx="2085.7" cy="1069.7" r="4.1"/><circle cx="2082.9" cy="1068.2" r="4.1"/><circle cx="2080.2" cy="1067.2" r="4.1"/><circle cx="2077.6" cy="1067.3" r="4.1"/><circle cx="2076.2" cy="1068.7" r="4.1"/><circle cx="2074.8" cy="1066.6" r="4.1"/><circle cx="2073.4" cy="1064.5" r="4.1"/><circle cx="2072.0" cy="1064.0" r="4.1"/><circle cx="2070.5" cy="1063.9" r="4.1"/><circle cx="2069.1" cy="1064.0" r="4.1"/><circle cx="2067.7" cy="1061.6" r="4.1"/><circle cx="2066.3" cy="1062.0" r="4.1"/><circle cx="2064.9" cy="1061.5" r="4.1"/><circle cx="2063.5" cy="1059.9" r="4.1"/><circle cx="2063.9" cy="1056.2" r="4.1"/><circle cx="2064.2" cy="1056.3" r="4.1"/><circle cx="2064.6" cy="1054.1" r="4.1"/><circle cx="2064.9" cy="1054.7" r="4.1"/><circle cx="2065.2" cy="1051.9" r="4.1"/><circle cx="2065.6" cy="1052.4" r="4.1"/><circle cx="2065.9" cy="1051.1" r="4.1"/><circle cx="2066.2" cy="1047.6" r="4.1"/><circle cx="2066.6" cy="1048.9" r="4.1"/><circle cx="2066.9" cy="1049.7" r="4.1"/><circle cx="2067.9" cy="1048.7" r="4.1"/><circle cx="2068.9" cy="1047.6" r="4.1"/><circle cx="2070.0" cy="1046.2" r="4.1"/><circle cx="2071.0" cy="1047.7" r="4.1"/><circle cx="2072.1" cy="1048.8" r="4.1"/><circle cx="2073.1" cy="1046.9" r="4.1"/><circle cx="2074.1" cy="1046.3" r="4.1"/><circle cx="2075.2" cy="1045.9" r="4.1"/><circle cx="2076.2" cy="1044.3" r="4.1"/><circle cx="2077.3" cy="1045.1" r="4.1"/><circle cx="2078.3" cy="1044.2" r="4.1"/><circle cx="2079.4" cy="1046.0" r="4.1"/><circle cx="2080.4" cy="1043.5" r="4.1"/><circle cx="2081.4" cy="1041.9" r="4.1"/><circle cx="2082.5" cy="1043.0" r="4.1"/><circle cx="2083.2" cy="1043.3" r="4.1"/><circle cx="2083.8" cy="1043.1" r="4.1"/><circle cx="2084.5" cy="1041.0" r="4.1"/><circle cx="2085.1" cy="1043.7" r="4.1"/><circle cx="2085.7" cy="1042.5" r="4.1"/><circle cx="2086.3" cy="1041.5" r="4.1"/><circle cx="2086.9" cy="1040.9" r="4.1"/><circle cx="2087.6" cy="1041.9" r="4.1"/><circle cx="2088.2" cy="1040.6" r="4.1"/><circle cx="2088.8" cy="1040.7" r="4.1"/><circle cx="2089.4" cy="1039.8" r="4.1"/><circle cx="2090.0" cy="1039.6" r="4.1"/><circle cx="2090.7" cy="1040.2" r="4.1"/><circle cx="2091.3" cy="1038.5" r="4.1"/><circle cx="2091.9" cy="1037.0" r="4.1"/><circle cx="2092.8" cy="1038.6" r="4.1"/><circle cx="2093.9" cy="1037.3" r="4.1"/><circle cx="2095.1" cy="1035.8" r="4.1"/><circle cx="2096.2" cy="1037.2" r="4.1"/><circle cx="2097.3" cy="1035.3" r="4.1"/><circle cx="2098.5" cy="1036.3" r="4.1"/><circle cx="2099.6" cy="1033.7" r="4.1"/><circle cx="2100.7" cy="1032.2" r="4.1"/><circle cx="2101.9" cy="1032.4" r="4.1"/><circle cx="2103.0" cy="1034.7" r="4.1"/><circle cx="2104.1" cy="1033.5" r="4.1"/><circle cx="2105.4" cy="1034.0" r="4.1"/><circle cx="2107.5" cy="1033.8" r="4.1"/><circle cx="2109.7" cy="1032.1" r="4.1"/><circle cx="2111.8" cy="1035.1" r="4.1"/><circle cx="2113.9" cy="1032.3" r="4.1"/><circle cx="2116.1" cy="1033.3" r="4.1"/><circle cx="2118.2" cy="1031.5" r="4.1"/><circle cx="2120.3" cy="1032.7" r="4.1"/><circle cx="2122.4" cy="1034.0" r="4.1"/><circle cx="2124.6" cy="1034.1" r="4.1"/><circle cx="2126.7" cy="1034.8" r="4.1"/><circle cx="2128.8" cy="1036.7" r="4.1"/><circle cx="2130.8" cy="1037.3" r="4.1"/><circle cx="2132.8" cy="1039.6" r="4.1"/><circle cx="2134.8" cy="1042.5" r="4.1"/><circle cx="2136.8" cy="1040.3" r="4.1"/><circle cx="2138.8" cy="1041.6" r="4.1"/><circle cx="2140.8" cy="1043.4" r="4.1"/><circle cx="2142.8" cy="1044.6" r="4.1"/><circle cx="2144.8" cy="1044.6" r="4.1"/><circle cx="2146.8" cy="1045.4" r="4.1"/><circle cx="2148.8" cy="1044.8" r="4.1"/><circle cx="2150.8" cy="1043.3" r="4.1"/><circle cx="2152.8" cy="1040.9" r="4.1"/><circle cx="2154.7" cy="1043.0" r="4.1"/><circle cx="2156.7" cy="1041.4" r="4.1"/><circle cx="2157.2" cy="1044.6" r="4.1"/><circle cx="2157.6" cy="1046.3" r="4.1"/><circle cx="2158.0" cy="1044.9" r="4.1"/><circle cx="2158.4" cy="1047.6" r="4.1"/><circle cx="2158.8" cy="1049.5" r="4.1"/><circle cx="2159.2" cy="1049.0" r="4.1"/><circle cx="2159.5" cy="1048.1" r="4.1"/><circle cx="2159.9" cy="1048.4" r="4.1"/><circle cx="2160.4" cy="1050.7" r="4.1"/><circle cx="2162.1" cy="1050.3" r="4.1"/><circle cx="2163.7" cy="1050.5" r="4.1"/><circle cx="2165.4" cy="1052.4" r="4.1"/><circle cx="2167.1" cy="1051.6" r="4.1"/><circle cx="2168.7" cy="1052.3" r="4.1"/><circle cx="2170.4" cy="1053.1" r="4.1"/><circle cx="2172.1" cy="1053.3" r="4.1"/><circle cx="2173.7" cy="1052.9" r="4.1"/><circle cx="2175.4" cy="1053.2" r="4.1"/><circle cx="2177.1" cy="1054.1" r="4.1"/><circle cx="2178.8" cy="1054.2" r="4.1"/><circle cx="2180.4" cy="1052.8" r="4.1"/><circle cx="2182.1" cy="1054.2" r="4.1"/><circle cx="2184.0" cy="1054.8" r="4.1"/><circle cx="2187.1" cy="1055.9" r="4.1"/><circle cx="2190.1" cy="1057.9" r="4.1"/><circle cx="2193.1" cy="1057.5" r="4.1"/><circle cx="2196.2" cy="1062.2" r="4.1"/><circle cx="2199.2" cy="1061.8" r="4.1"/><circle cx="2202.2" cy="1064.5" r="4.1"/><circle cx="2205.3" cy="1064.0" r="4.1"/><circle cx="2208.3" cy="1066.4" r="4.1"/><circle cx="2211.3" cy="1072.6" r="4.1"/><circle cx="2214.4" cy="1073.8" r="4.1"/><circle cx="2217.4" cy="1074.2" r="4.1"/><circle cx="2220.4" cy="1076.3" r="4.1"/><circle cx="2223.5" cy="1078.5" r="4.1"/><circle cx="2226.5" cy="1081.7" r="4.1"/><circle cx="2229.5" cy="1083.8" r="4.1"/><circle cx="2232.5" cy="1086.3" r="4.1"/><circle cx="2235.6" cy="1089.8" r="4.1"/><circle cx="2238.6" cy="1091.3" r="4.1"/><circle cx="2241.3" cy="1097.6" r="4.1"/><circle cx="2242.7" cy="1097.1" r="4.1"/><circle cx="2244.1" cy="1101.7" r="4.1"/><circle cx="2245.5" cy="1102.2" r="4.1"/><circle cx="2246.9" cy="1105.9" r="4.1"/><circle cx="2248.3" cy="1108.0" r="4.1"/><circle cx="2249.7" cy="1108.0" r="4.1"/><circle cx="2251.1" cy="1110.8" r="4.1"/><circle cx="2252.5" cy="1112.2" r="4.1"/><circle cx="2253.9" cy="1114.3" r="4.1"/><circle cx="2255.2" cy="1114.0" r="4.1"/><circle cx="2255.9" cy="1114.8" r="4.1"/><circle cx="2256.5" cy="1115.6" r="4.1"/><circle cx="2257.2" cy="1118.3" r="4.1"/><circle cx="2257.8" cy="1118.3" r="4.1"/><circle cx="2258.5" cy="1120.9" r="4.1"/><circle cx="2259.1" cy="1121.8" r="4.1"/><circle cx="2259.8" cy="1121.8" r="4.1"/><circle cx="2260.4" cy="1122.0" r="4.1"/><circle cx="2261.1" cy="1124.3" r="4.1"/><circle cx="2261.7" cy="1124.9" r="4.1"/><circle cx="2262.4" cy="1125.5" r="4.1"/><circle cx="2263.0" cy="1126.0" r="4.1"/><circle cx="2262.9" cy="1127.8" r="4.1"/><circle cx="2262.0" cy="1126.4" r="4.1"/><circle cx="2261.1" cy="1128.7" r="4.1"/><circle cx="2260.2" cy="1128.5" r="4.1"/><circle cx="2259.4" cy="1130.9" r="4.1"/><circle cx="2258.5" cy="1130.8" r="4.1"/><circle cx="2257.6" cy="1132.1" r="4.1"/><circle cx="2256.7" cy="1134.2" r="4.1"/><circle cx="2255.8" cy="1132.8" r="4.1"/><circle cx="2254.9" cy="1135.9" r="4.1"/><circle cx="2254.0" cy="1135.5" r="4.1"/><circle cx="2253.2" cy="1137.2" r="4.1"/><circle cx="2252.3" cy="1139.7" r="4.1"/><circle cx="2250.9" cy="1140.2" r="4.1"/><circle cx="2249.5" cy="1140.0" r="4.1"/><circle cx="2248.0" cy="1141.2" r="4.1"/><circle cx="2246.5" cy="1141.9" r="4.1"/><circle cx="2245.0" cy="1143.1" r="4.1"/><circle cx="2243.6" cy="1145.5" r="4.1"/><circle cx="2242.1" cy="1144.5" r="4.1"/><circle cx="2240.6" cy="1147.4" r="4.1"/><circle cx="2239.1" cy="1144.7" r="4.1"/><circle cx="2237.6" cy="1146.0" r="4.1"/><circle cx="2236.2" cy="1146.1" r="4.1"/><circle cx="2234.7" cy="1145.7" r="4.1"/><circle cx="2233.2" cy="1145.3" r="4.1"/><circle cx="2231.7" cy="1147.4" r="4.1"/><circle cx="2230.2" cy="1147.8" r="4.1"/><circle cx="2228.8" cy="1147.0" r="4.1"/><circle cx="2227.0" cy="1147.7" r="4.1"/><circle cx="2224.7" cy="1146.2" r="4.1"/><circle cx="2222.4" cy="1143.0" r="4.1"/><circle cx="2220.1" cy="1145.5" r="4.1"/><circle cx="2217.9" cy="1143.3" r="4.1"/><circle cx="2215.6" cy="1145.1" r="4.1"/><circle cx="2213.3" cy="1142.9" r="4.1"/><circle cx="2211.0" cy="1143.3" r="4.1"/><circle cx="2208.7" cy="1142.4" r="4.1"/><circle cx="2206.4" cy="1140.9" r="4.1"/><circle cx="2204.2" cy="1138.8" r="4.1"/><circle cx="2201.9" cy="1139.7" r="4.1"/><circle cx="2199.6" cy="1139.0" r="4.1"/><circle cx="2197.3" cy="1139.5" r="4.1"/><circle cx="2195.0" cy="1137.0" r="4.1"/><circle cx="2192.7" cy="1137.1" r="4.1"/><circle cx="2190.5" cy="1135.1" r="4.1"/><circle cx="2188.2" cy="1135.3" r="4.1"/><circle cx="2185.9" cy="1132.6" r="4.1"/><circle cx="2183.6" cy="1135.7" r="4.1"/><circle cx="2181.3" cy="1132.5" r="4.1"/><circle cx="2179.0" cy="1129.8" r="4.1"/><circle cx="2176.7" cy="1129.7" r="4.1"/><circle cx="2174.5" cy="1128.8" r="4.1"/><circle cx="2172.2" cy="1126.8" r="4.1"/><circle cx="2169.9" cy="1126.6" r="4.1"/><circle cx="2167.6" cy="1123.6" r="4.1"/><circle cx="2165.3" cy="1119.6" r="4.1"/><circle cx="2162.4" cy="1119.3" r="4.1"/><circle cx="2158.9" cy="1119.7" r="4.1"/><circle cx="2155.4" cy="1117.3" r="4.1"/><circle cx="2151.9" cy="1114.6" r="4.1"/><circle cx="2148.3" cy="1111.3" r="4.1"/><circle cx="2144.8" cy="1111.8" r="4.1"/><circle cx="2141.3" cy="1110.2" r="4.1"/><circle cx="2137.8" cy="1106.9" r="4.1"/><circle cx="2134.3" cy="1105.5" r="4.1"/><circle cx="2130.8" cy="1105.3" r="4.1"/><circle cx="2127.3" cy="1104.6" r="4.1"/><circle cx="2124.0" cy="1103.6" r="4.1"/><circle cx="2122.5" cy="1101.0" r="4.1"/><circle cx="2120.9" cy="1101.1" r="4.1"/><circle cx="2119.4" cy="1096.2" r="4.1"/><circle cx="2117.8" cy="1096.1" r="4.1"/><circle cx="2116.3" cy="1093.3" r="4.1"/><circle cx="2114.7" cy="1090.2" r="4.1"/><circle cx="2113.2" cy="1089.3" r="4.1"/><circle cx="2111.6" cy="1090.3" r="4.1"/><circle cx="2110.1" cy="1086.5" r="4.1"/><circle cx="2108.5" cy="1085.0" r="4.1"/><circle cx="2107.0" cy="1085.9" r="4.1"/><circle cx="2106.5" cy="1084.9" r="4.1"/><circle cx="2106.2" cy="1082.8" r="4.1"/><circle cx="2106.0" cy="1083.2" r="4.1"/><circle cx="2105.8" cy="1078.6" r="4.1"/><circle cx="2105.5" cy="1081.7" r="4.1"/><circle cx="2105.3" cy="1079.0" r="4.1"/><circle cx="2105.1" cy="1076.9" r="4.1"/><circle cx="2104.8" cy="1075.8" r="4.1"/><circle cx="2104.6" cy="1074.4" r="4.1"/><circle cx="2104.4" cy="1073.2" r="4.1"/><circle cx="2104.9" cy="1072.7" r="4.1"/><circle cx="2105.8" cy="1070.1" r="4.1"/><circle cx="2106.8" cy="1072.7" r="4.1"/><circle cx="2107.7" cy="1069.3" r="4.1"/><circle cx="2108.6" cy="1069.0" r="4.1"/><circle cx="2109.5" cy="1067.0" r="4.1"/><circle cx="2110.5" cy="1066.0" r="4.1"/><circle cx="2111.4" cy="1067.0" r="4.1"/><circle cx="2112.3" cy="1066.4" r="4.1"/><circle cx="2113.3" cy="1064.6" r="4.1"/><circle cx="2114.2" cy="1064.8" r="4.1"/><circle cx="2115.1" cy="1065.7" r="4.1"/><circle cx="2116.0" cy="1062.4" r="4.1"/><circle cx="2117.0" cy="1061.9" r="4.1"/><circle cx="2117.9" cy="1065.8" r="4.1"/><circle cx="2118.8" cy="1063.6" r="4.1"/><circle cx="2119.7" cy="1060.9" r="4.1"/><circle cx="2120.7" cy="1062.5" r="4.1"/><circle cx="2121.6" cy="1062.9" r="4.1"/><circle cx="2123.4" cy="1063.1" r="4.1"/><circle cx="2125.6" cy="1063.5" r="4.1"/><circle cx="2127.8" cy="1063.8" r="4.1"/><circle cx="2130.0" cy="1064.9" r="4.1"/><circle cx="2132.2" cy="1064.2" r="4.1"/><circle cx="2134.4" cy="1066.2" r="4.1"/><circle cx="2136.6" cy="1066.9" r="4.1"/><circle cx="2138.9" cy="1068.5" r="4.1"/><circle cx="2141.1" cy="1067.9" r="4.1"/><circle cx="2143.3" cy="1069.6" r="4.1"/><circle cx="2145.5" cy="1069.5" r="4.1"/><circle cx="2147.7" cy="1068.9" r="4.1"/><circle cx="2150.0" cy="1070.3" r="4.1"/><circle cx="2153.6" cy="1071.3" r="4.1"/><circle cx="2157.2" cy="1072.6" r="4.1"/><circle cx="2160.8" cy="1074.0" r="4.1"/><circle cx="2164.4" cy="1075.4" r="4.1"/><circle cx="2168.0" cy="1076.7" r="4.1"/><circle cx="2171.6" cy="1076.7" r="4.1"/><circle cx="2175.2" cy="1079.8" r="4.1"/><circle cx="2178.8" cy="1078.3" r="4.1"/><circle cx="2182.4" cy="1080.9" r="4.1"/><circle cx="2186.0" cy="1082.9" r="4.1"/><circle cx="2189.7" cy="1085.4" r="4.1"/><circle cx="2193.3" cy="1088.8" r="4.1"/><circle cx="2197.6" cy="1091.1" r="4.1"/><circle cx="2202.7" cy="1095.3" r="4.1"/><circle cx="2207.8" cy="1096.4" r="4.1"/><circle cx="2213.0" cy="1100.9" r="4.1"/><circle cx="2218.1" cy="1104.6" r="4.1"/><circle cx="2223.3" cy="1105.0" r="4.1"/><circle cx="2228.4" cy="1108.5" r="4.1"/><circle cx="2233.5" cy="1108.4" r="4.1"/><circle cx="2238.7" cy="1109.3" r="4.1"/><circle cx="2243.8" cy="1111.9" r="4.1"/><circle cx="2249.0" cy="1116.1" r="4.1"/><circle cx="2254.1" cy="1117.6" r="4.1"/><circle cx="2259.3" cy="1116.9" r="4.1"/><circle cx="2264.4" cy="1120.6" r="4.1"/><circle cx="2269.5" cy="1123.1" r="4.1"/><circle cx="2274.7" cy="1123.9" r="4.1"/><circle cx="2279.8" cy="1123.7" r="4.1"/><circle cx="2285.0" cy="1126.2" r="4.1"/><circle cx="2290.1" cy="1128.8" r="4.1"/><circle cx="2295.3" cy="1129.8" r="4.1"/><circle cx="2300.5" cy="1130.8" r="4.1"/><circle cx="2305.6" cy="1133.4" r="4.1"/><circle cx="2310.8" cy="1135.1" r="4.1"/><circle cx="2316.0" cy="1135.2" r="4.1"/><circle cx="2321.1" cy="1137.6" r="4.1"/><circle cx="2326.3" cy="1137.9" r="4.1"/><circle cx="2331.5" cy="1138.9" r="4.1"/><circle cx="2336.6" cy="1137.7" r="4.1"/><circle cx="2341.8" cy="1142.5" r="4.1"/><circle cx="2347.0" cy="1143.0" r="4.1"/><circle cx="2352.1" cy="1144.3" r="4.1"/><circle cx="2357.3" cy="1144.9" r="4.1"/><circle cx="2362.5" cy="1145.5" r="4.1"/><circle cx="2367.6" cy="1148.5" r="4.1"/><circle cx="2372.8" cy="1150.1" r="4.1"/><circle cx="2377.8" cy="1152.3" r="4.1"/><circle cx="2381.8" cy="1152.8" r="4.1"/><circle cx="2385.7" cy="1152.4" r="4.1"/><circle cx="2389.6" cy="1154.2" r="4.1"/><circle cx="2393.6" cy="1156.7" r="4.1"/><circle cx="2397.5" cy="1157.2" r="4.1"/><circle cx="2401.4" cy="1158.3" r="4.1"/><circle cx="2405.4" cy="1159.3" r="4.1"/><circle cx="2409.3" cy="1162.0" r="4.1"/><circle cx="2413.2" cy="1163.1" r="4.1"/><circle cx="2417.2" cy="1166.4" r="4.1"/><circle cx="2421.1" cy="1167.2" r="4.1"/><circle cx="2425.0" cy="1165.6" r="4.1"/><circle cx="2428.9" cy="1171.2" r="4.1"/><circle cx="2432.9" cy="1169.8" r="4.1"/><circle cx="2436.8" cy="1169.8" r="4.1"/><circle cx="2439.6" cy="1171.1" r="4.1"/><circle cx="2442.1" cy="1172.2" r="4.1"/><circle cx="2444.7" cy="1172.0" r="4.1"/><circle cx="2447.3" cy="1172.6" r="4.1"/><circle cx="2449.8" cy="1173.3" r="4.1"/><circle cx="2452.4" cy="1175.9" r="4.1"/><circle cx="2455.0" cy="1174.6" r="4.1"/><circle cx="2457.5" cy="1176.0" r="4.1"/><circle cx="2460.1" cy="1176.3" r="4.1"/><circle cx="2462.6" cy="1176.1" r="4.1"/><circle cx="2465.2" cy="1176.2" r="4.1"/><circle cx="2467.8" cy="1176.4" r="4.1"/><circle cx="2469.9" cy="1178.4" r="4.1"/><circle cx="2470.5" cy="1177.3" r="4.1"/><circle cx="2471.2" cy="1177.5" r="4.1"/><circle cx="2471.9" cy="1178.0" r="4.1"/><circle cx="2472.5" cy="1178.1" r="4.1"/><circle cx="2473.2" cy="1180.3" r="4.1"/><circle cx="2473.9" cy="1180.5" r="4.1"/><circle cx="2474.5" cy="1179.5" r="4.1"/><circle cx="2475.2" cy="1182.0" r="4.1"/><circle cx="2475.9" cy="1180.4" r="4.1"/><circle cx="2476.5" cy="1181.4" r="4.1"/><circle cx="2477.2" cy="1181.3" r="4.1"/><circle cx="2477.9" cy="1183.0" r="4.1"/><circle cx="2478.0" cy="1182.2" r="4.1"/><circle cx="2477.9" cy="1181.3" r="4.1"/><circle cx="2477.7" cy="1180.5" r="4.1"/><circle cx="2477.6" cy="1180.5" r="4.1"/><circle cx="2477.4" cy="1181.8" r="4.1"/><circle cx="2476.7" cy="1181.6" r="4.1"/><circle cx="2475.4" cy="1181.2" r="4.1"/><circle cx="2474.2" cy="1178.8" r="4.1"/><circle cx="2472.9" cy="1179.5" r="4.1"/><circle cx="2471.6" cy="1178.7" r="4.1"/><circle cx="2470.4" cy="1177.5" r="4.1"/><circle cx="2469.1" cy="1179.7" r="4.1"/><circle cx="2467.8" cy="1181.4" r="4.1"/><circle cx="2466.6" cy="1180.9" r="4.1"/><circle cx="2464.8" cy="1181.7" r="4.1"/><circle cx="2462.9" cy="1181.5" r="4.1"/><circle cx="2460.9" cy="1178.9" r="4.1"/><circle cx="2459.0" cy="1183.3" r="4.1"/><circle cx="2457.1" cy="1187.8" r="4.1"/><circle cx="2455.1" cy="1185.0" r="4.1"/><circle cx="2453.2" cy="1183.9" r="4.1"/><circle cx="2451.1" cy="1185.3" r="4.1"/><circle cx="2447.6" cy="1185.2" r="4.1"/><circle cx="2444.2" cy="1184.4" r="4.1"/><circle cx="2440.7" cy="1183.3" r="4.1"/><circle cx="2437.3" cy="1182.5" r="4.1"/><circle cx="2433.9" cy="1181.5" r="4.1"/><circle cx="2430.4" cy="1181.1" r="4.1"/><circle cx="2427.0" cy="1181.0" r="4.1"/><circle cx="2423.6" cy="1180.9" r="4.1"/><circle cx="2420.1" cy="1181.8" r="4.1"/><circle cx="2416.7" cy="1184.2" r="4.1"/><circle cx="2413.2" cy="1182.8" r="4.1"/><circle cx="2409.8" cy="1182.4" r="4.1"/><circle cx="2406.1" cy="1183.2" r="4.1"/><circle cx="2402.1" cy="1181.9" r="4.1"/><circle cx="2398.1" cy="1183.3" r="4.1"/><circle cx="2394.1" cy="1185.4" r="4.1"/><circle cx="2390.1" cy="1184.5" r="4.1"/><circle cx="2386.1" cy="1186.4" r="4.1"/><circle cx="2382.1" cy="1185.9" r="4.1"/><circle cx="2378.0" cy="1184.1" r="4.1"/><circle cx="2374.0" cy="1182.9" r="4.1"/><circle cx="2370.0" cy="1182.6" r="4.1"/><circle cx="2366.0" cy="1184.7" r="4.1"/><circle cx="2361.9" cy="1181.7" r="4.1"/><circle cx="2356.7" cy="1180.4" r="4.1"/><circle cx="2351.6" cy="1179.9" r="4.1"/><circle cx="2346.5" cy="1177.8" r="4.1"/><circle cx="2341.3" cy="1176.2" r="4.1"/><circle cx="2336.2" cy="1177.6" r="4.1"/><circle cx="2331.1" cy="1177.8" r="4.1"/><circle cx="2326.0" cy="1172.9" r="4.1"/><circle cx="2320.8" cy="1173.7" r="4.1"/><circle cx="2315.4" cy="1172.6" r="4.1"/><circle cx="2309.3" cy="1169.0" r="4.1"/><circle cx="2303.3" cy="1166.9" r="4.1"/><circle cx="2297.2" cy="1166.1" r="4.1"/><circle cx="2291.1" cy="1163.0" r="4.1"/><circle cx="2285.0" cy="1164.2" r="4.1"/><circle cx="2278.9" cy="1164.4" r="4.1"/><circle cx="2272.8" cy="1163.0" r="4.1"/><circle cx="2266.7" cy="1161.1" r="4.1"/><circle cx="2260.7" cy="1160.5" r="4.1"/><circle cx="2254.6" cy="1157.4" r="4.1"/><circle cx="2248.5" cy="1155.7" r="4.1"/><circle cx="2242.4" cy="1150.4" r="4.1"/><circle cx="2235.7" cy="1152.2" r="4.1"/><circle cx="2228.7" cy="1147.8" r="4.1"/><circle cx="2221.7" cy="1147.3" r="4.1"/><circle cx="2214.8" cy="1145.3" r="4.1"/><circle cx="2207.8" cy="1142.3" r="4.1"/><circle cx="2200.8" cy="1140.0" r="4.1"/><circle cx="2193.8" cy="1137.5" r="4.1"/><circle cx="2186.8" cy="1136.4" r="4.1"/><circle cx="2179.9" cy="1135.3" r="4.1"/><circle cx="2172.9" cy="1133.1" r="4.1"/><circle cx="2165.9" cy="1129.9" r="4.1"/><circle cx="2158.9" cy="1127.7" r="4.1"/><circle cx="2151.9" cy="1125.4" r="4.1"/><circle cx="2144.9" cy="1125.0" r="4.1"/><circle cx="2138.0" cy="1122.5" r="4.1"/><circle cx="2131.0" cy="1119.8" r="4.1"/><circle cx="2124.6" cy="1119.1" r="4.1"/><circle cx="2120.6" cy="1118.7" r="4.1"/><circle cx="2116.6" cy="1116.2" r="4.1"/><circle cx="2112.6" cy="1114.3" r="4.1"/><circle cx="2108.6" cy="1108.7" r="4.1"/><circle cx="2104.6" cy="1109.2" r="4.1"/><circle cx="2100.6" cy="1104.8" r="4.1"/><circle cx="2096.6" cy="1103.3" r="4.1"/><circle cx="2092.6" cy="1099.9" r="4.1"/><circle cx="2088.6" cy="1098.7" r="4.1"/><circle cx="2084.5" cy="1098.9" r="4.1"/><circle cx="2080.5" cy="1098.0" r="4.1"/><circle cx="2078.3" cy="1096.7" r="4.1"/><circle cx="2076.4" cy="1095.6" r="4.1"/><circle cx="2074.5" cy="1095.3" r="4.1"/><circle cx="2072.6" cy="1093.8" r="4.1"/><circle cx="2070.7" cy="1091.0" r="4.1"/><circle cx="2068.8" cy="1093.6" r="4.1"/><circle cx="2066.9" cy="1090.3" r="4.1"/><circle cx="2065.2" cy="1090.2" r="4.1"/><circle cx="2064.4" cy="1087.6" r="4.1"/><circle cx="2063.6" cy="1085.5" r="4.1"/><circle cx="2062.8" cy="1085.0" r="4.1"/><circle cx="2062.0" cy="1082.7" r="4.1"/><circle cx="2061.2" cy="1083.9" r="4.1"/><circle cx="2060.3" cy="1079.5" r="4.1"/><circle cx="2059.5" cy="1080.0" r="4.1"/><circle cx="2058.7" cy="1077.2" r="4.1"/><circle cx="2058.9" cy="1076.3" r="4.1"/><circle cx="2060.3" cy="1077.9" r="4.1"/><circle cx="2061.7" cy="1074.5" r="4.1"/><circle cx="2063.0" cy="1072.7" r="4.1"/><circle cx="2064.4" cy="1070.8" r="4.1"/><circle cx="2065.8" cy="1071.8" r="4.1"/><circle cx="2067.1" cy="1071.4" r="4.1"/><circle cx="2068.5" cy="1072.8" r="4.1"/><circle cx="2069.9" cy="1069.5" r="4.1"/><circle cx="2071.3" cy="1068.9" r="4.1"/><circle cx="2072.6" cy="1070.7" r="4.1"/><circle cx="2074.0" cy="1070.8" r="4.1"/><circle cx="2075.4" cy="1072.2" r="4.1"/><circle cx="2076.7" cy="1069.2" r="4.1"/><circle cx="2079.5" cy="1067.5" r="4.1"/><circle cx="2083.8" cy="1070.8" r="4.1"/><circle cx="2088.1" cy="1071.3" r="4.1"/><circle cx="2092.5" cy="1073.2" r="4.1"/><circle cx="2096.8" cy="1076.0" r="4.1"/><circle cx="2101.1" cy="1074.6" r="4.1"/><circle cx="2105.4" cy="1078.5" r="4.1"/><circle cx="2109.8" cy="1078.5" r="4.1"/><circle cx="2114.1" cy="1079.1" r="4.1"/><circle cx="2119.5" cy="1079.7" r="4.1"/><circle cx="2125.6" cy="1081.5" r="4.1"/><circle cx="2131.7" cy="1082.9" r="4.1"/><circle cx="2137.8" cy="1085.5" r="4.1"/><circle cx="2143.9" cy="1087.4" r="4.1"/><circle cx="2150.0" cy="1087.3" r="4.1"/><circle cx="2156.1" cy="1089.5" r="4.1"/><circle cx="2162.3" cy="1091.5" r="4.1"/><circle cx="2168.4" cy="1092.8" r="4.1"/><circle cx="2174.5" cy="1093.8" r="4.1"/><circle cx="2180.6" cy="1097.5" r="4.1"/><circle cx="2186.7" cy="1099.2" r="4.1"/><circle cx="2192.8" cy="1101.8" r="4.1"/><circle cx="2198.9" cy="1102.0" r="4.1"/><circle cx="2205.0" cy="1104.0" r="4.1"/><circle cx="2211.1" cy="1104.5" r="4.1"/><circle cx="2217.2" cy="1110.6" r="4.1"/><circle cx="2223.3" cy="1112.0" r="4.1"/><circle cx="2229.4" cy="1112.5" r="4.1"/><circle cx="2235.6" cy="1116.0" r="4.1"/><circle cx="2241.7" cy="1118.3" r="4.1"/><circle cx="2247.9" cy="1118.3" r="4.1"/><circle cx="2254.1" cy="1122.8" r="4.1"/><circle cx="2260.2" cy="1126.0" r="4.1"/><circle cx="2266.4" cy="1128.5" r="4.1"/><circle cx="2272.5" cy="1129.0" r="4.1"/><circle cx="2278.7" cy="1131.3" r="4.1"/><circle cx="2284.9" cy="1135.5" r="4.1"/><circle cx="2291.0" cy="1137.4" r="4.1"/><circle cx="2297.2" cy="1138.0" r="4.1"/><circle cx="2303.3" cy="1140.3" r="4.1"/><circle cx="2309.5" cy="1143.9" r="4.1"/><circle cx="2315.7" cy="1144.3" r="4.1"/><circle cx="2322.0" cy="1146.1" r="4.1"/><circle cx="2328.4" cy="1150.4" r="4.1"/><circle cx="2334.8" cy="1150.5" r="4.1"/><circle cx="2341.2" cy="1151.4" r="4.1"/><circle cx="2347.6" cy="1154.2" r="4.1"/><circle cx="2354.0" cy="1157.7" r="4.1"/><circle cx="2360.3" cy="1157.3" r="4.1"/><circle cx="2366.1" cy="1157.9" r="4.1"/><circle cx="2369.8" cy="1158.7" r="4.1"/><circle cx="2373.6" cy="1164.6" r="4.1"/><circle cx="2377.4" cy="1160.8" r="4.1"/><circle cx="2381.2" cy="1166.1" r="4.1"/><circle cx="2384.9" cy="1165.1" r="4.1"/><circle cx="2388.7" cy="1166.0" r="4.1"/><circle cx="2392.5" cy="1167.5" r="4.1"/><circle cx="2396.3" cy="1169.7" r="4.1"/><circle cx="2400.0" cy="1172.4" r="4.1"/><circle cx="2403.8" cy="1171.6" r="4.1"/><circle cx="2407.6" cy="1174.3" r="4.1"/><circle cx="2411.4" cy="1177.6" r="4.1"/><circle cx="2415.1" cy="1173.0" r="4.1"/><circle cx="2418.6" cy="1176.9" r="4.1"/><circle cx="2421.1" cy="1177.2" r="4.1"/><circle cx="2423.6" cy="1181.7" r="4.1"/><circle cx="2426.1" cy="1180.7" r="4.1"/><circle cx="2428.6" cy="1182.1" r="4.1"/><circle cx="2431.1" cy="1183.7" r="4.1"/><circle cx="2433.6" cy="1186.9" r="4.1"/><circle cx="2436.1" cy="1189.8" r="4.1"/><circle cx="2438.6" cy="1190.2" r="4.1"/><circle cx="2441.2" cy="1194.0" r="4.1"/><circle cx="2443.7" cy="1195.0" r="4.1"/><circle cx="2446.2" cy="1194.5" r="4.1"/><circle cx="2448.7" cy="1197.3" r="4.1"/><circle cx="2451.2" cy="1197.6" r="4.1"/><circle cx="2453.7" cy="1198.6" r="4.1"/><circle cx="2456.2" cy="1197.4" r="4.1"/><circle cx="2458.7" cy="1199.2" r="4.1"/><circle cx="2461.2" cy="1201.7" r="4.1"/><circle cx="2462.7" cy="1201.4" r="4.1"/><circle cx="2463.7" cy="1204.6" r="4.1"/><circle cx="2464.7" cy="1205.2" r="4.1"/><circle cx="2465.7" cy="1204.9" r="4.1"/><circle cx="2466.7" cy="1207.9" r="4.1"/><circle cx="2467.7" cy="1207.2" r="4.1"/><circle cx="2468.7" cy="1208.8" r="4.1"/><circle cx="2469.6" cy="1207.6" r="4.1"/><circle cx="2470.6" cy="1206.3" r="4.1"/><circle cx="2471.6" cy="1209.3" r="4.1"/><circle cx="2471.8" cy="1208.6" r="4.1"/><circle cx="2471.2" cy="1210.2" r="4.1"/><circle cx="2470.7" cy="1210.9" r="4.1"/><circle cx="2470.1" cy="1211.4" r="4.1"/><circle cx="2469.6" cy="1208.7" r="4.1"/><circle cx="2469.0" cy="1207.8" r="4.1"/><circle cx="2468.4" cy="1210.0" r="4.1"/><circle cx="2467.9" cy="1211.4" r="4.1"/><circle cx="2467.3" cy="1210.0" r="4.1"/><circle cx="2466.8" cy="1211.3" r="4.1"/><circle cx="2466.2" cy="1210.1" r="4.1"/><circle cx="2465.4" cy="1210.8" r="4.1"/><circle cx="2463.2" cy="1211.0" r="4.1"/><circle cx="2460.9" cy="1210.7" r="4.1"/><circle cx="2458.7" cy="1212.2" r="4.1"/><circle cx="2456.5" cy="1212.0" r="4.1"/><circle cx="2454.2" cy="1212.8" r="4.1"/><circle cx="2452.0" cy="1210.7" r="4.1"/><circle cx="2448.8" cy="1211.1" r="4.1"/><circle cx="2445.4" cy="1209.0" r="4.1"/><circle cx="2441.9" cy="1209.2" r="4.1"/><circle cx="2438.5" cy="1207.3" r="4.1"/><circle cx="2435.1" cy="1206.3" r="4.1"/><circle cx="2431.6" cy="1207.6" r="4.1"/><circle cx="2428.2" cy="1206.3" r="4.1"/><circle cx="2424.8" cy="1205.8" r="4.1"/><circle cx="2421.3" cy="1203.2" r="4.1"/><circle cx="2417.9" cy="1201.5" r="4.1"/><circle cx="2414.4" cy="1201.7" r="4.1"/><circle cx="2411.0" cy="1202.4" r="4.1"/><circle cx="2407.4" cy="1199.9" r="4.1"/><circle cx="2402.9" cy="1202.7" r="4.1"/><circle cx="2398.5" cy="1198.8" r="4.1"/><circle cx="2394.0" cy="1200.7" r="4.1"/><circle cx="2389.6" cy="1202.5" r="4.1"/><circle cx="2385.1" cy="1196.0" r="4.1"/><circle cx="2380.6" cy="1196.7" r="4.1"/><circle cx="2376.2" cy="1199.0" r="4.1"/><circle cx="2371.7" cy="1197.2" r="4.1"/><circle cx="2367.3" cy="1197.0" r="4.1"/><circle cx="2362.8" cy="1195.7" r="4.1"/><circle cx="2358.4" cy="1196.6" r="4.1"/><circle cx="2353.9" cy="1194.8" r="4.1"/><circle cx="2349.5" cy="1192.6" r="4.1"/><circle cx="2345.0" cy="1192.0" r="4.1"/><circle cx="2340.6" cy="1190.0" r="4.1"/><circle cx="2336.1" cy="1190.4" r="4.1"/><circle cx="2331.6" cy="1187.0" r="4.1"/><circle cx="2327.2" cy="1189.4" r="4.1"/><circle cx="2322.7" cy="1187.5" r="4.1"/><circle cx="2318.3" cy="1189.0" r="4.1"/><circle cx="2313.8" cy="1187.3" r="4.1"/><circle cx="2309.0" cy="1183.6" r="4.1"/><circle cx="2304.1" cy="1185.0" r="4.1"/><circle cx="2299.1" cy="1181.7" r="4.1"/><circle cx="2294.1" cy="1180.7" r="4.1"/><circle cx="2289.2" cy="1180.1" r="4.1"/><circle cx="2284.2" cy="1177.7" r="4.1"/><circle cx="2279.3" cy="1176.3" r="4.1"/><circle cx="2274.3" cy="1174.6" r="4.1"/><circle cx="2269.3" cy="1171.6" r="4.1"/><circle cx="2264.4" cy="1170.1" r="4.1"/><circle cx="2259.4" cy="1169.8" r="4.1"/><circle cx="2254.4" cy="1168.5" r="4.1"/><circle cx="2249.5" cy="1165.6" r="4.1"/><circle cx="2244.5" cy="1164.7" r="4.1"/><circle cx="2239.6" cy="1162.1" r="4.1"/><circle cx="2234.6" cy="1159.0" r="4.1"/><circle cx="2229.6" cy="1159.7" r="4.1"/><circle cx="2224.7" cy="1159.4" r="4.1"/><circle cx="2219.7" cy="1158.2" r="4.1"/><circle cx="2214.8" cy="1157.6" r="4.1"/><circle cx="2209.8" cy="1156.4" r="4.1"/><circle cx="2204.8" cy="1155.1" r="4.1"/><circle cx="2199.9" cy="1152.2" r="4.1"/><circle cx="2197.1" cy="1150.1" r="4.1"/><circle cx="2194.3" cy="1146.6" r="4.1"/><circle cx="2191.5" cy="1145.6" r="4.1"/><circle cx="2188.8" cy="1143.2" r="4.1"/><circle cx="2186.0" cy="1142.1" r="4.1"/><circle cx="2183.3" cy="1136.7" r="4.1"/><circle cx="2180.5" cy="1135.8" r="4.1"/><circle cx="2177.8" cy="1132.5" r="4.1"/><circle cx="2175.0" cy="1132.9" r="4.1"/><circle cx="2172.3" cy="1131.4" r="4.1"/><circle cx="2169.5" cy="1132.6" r="4.1"/><circle cx="2168.0" cy="1130.8" r="4.1"/><circle cx="2167.2" cy="1127.9" r="4.1"/><circle cx="2166.5" cy="1131.6" r="4.1"/><circle cx="2165.8" cy="1128.2" r="4.1"/><circle cx="2165.0" cy="1126.9" r="4.1"/><circle cx="2164.3" cy="1127.6" r="4.1"/><circle cx="2163.5" cy="1126.6" r="4.1"/><circle cx="2162.8" cy="1125.3" r="4.1"/><circle cx="2162.0" cy="1126.7" r="4.1"/><circle cx="2161.3" cy="1125.1" r="4.1"/><circle cx="2160.6" cy="1126.4" r="4.1"/><circle cx="2159.8" cy="1125.9" r="4.1"/><circle cx="2159.1" cy="1125.7" r="4.1"/><circle cx="2160.2" cy="1125.0" r="4.1"/><circle cx="2161.6" cy="1124.4" r="4.1"/><circle cx="2163.0" cy="1123.9" r="4.1"/><circle cx="2164.5" cy="1125.8" r="4.1"/><circle cx="2165.9" cy="1121.8" r="4.1"/><circle cx="2167.3" cy="1122.5" r="4.1"/><circle cx="2168.8" cy="1122.8" r="4.1"/><circle cx="2170.2" cy="1123.9" r="4.1"/><circle cx="2171.6" cy="1123.9" r="4.1"/><circle cx="2173.0" cy="1123.4" r="4.1"/><circle cx="2176.2" cy="1123.8" r="4.1"/><circle cx="2180.0" cy="1126.4" r="4.1"/><circle cx="2183.8" cy="1123.9" r="4.1"/><circle cx="2187.6" cy="1121.7" r="4.1"/><circle cx="2191.4" cy="1127.4" r="4.1"/><circle cx="2195.3" cy="1124.4" r="4.1"/><circle cx="2199.1" cy="1125.6" r="4.1"/><circle cx="2202.9" cy="1126.9" r="4.1"/><circle cx="2206.7" cy="1126.0" r="4.1"/><circle cx="2210.5" cy="1129.6" r="4.1"/><circle cx="2214.3" cy="1128.9" r="4.1"/><circle cx="2218.1" cy="1128.2" r="4.1"/><circle cx="2221.9" cy="1130.8" r="4.1"/><circle cx="2225.7" cy="1131.8" r="4.1"/><circle cx="2229.5" cy="1132.0" r="4.1"/><circle cx="2233.3" cy="1133.4" r="4.1"/><circle cx="2237.1" cy="1131.9" r="4.1"/><circle cx="2241.2" cy="1135.5" r="4.1"/><circle cx="2247.3" cy="1134.2" r="4.1"/><circle cx="2253.4" cy="1137.4" r="4.1"/><circle cx="2259.5" cy="1136.0" r="4.1"/><circle cx="2265.6" cy="1137.9" r="4.1"/><circle cx="2271.7" cy="1142.4" r="4.1"/><circle cx="2277.8" cy="1141.1" r="4.1"/><circle cx="2283.8" cy="1144.1" r="4.1"/><circle cx="2289.9" cy="1145.1" r="4.1"/><circle cx="2296.0" cy="1144.5" r="4.1"/><circle cx="2302.1" cy="1149.2" r="4.1"/><circle cx="2308.2" cy="1150.9" r="4.1"/><circle cx="2314.3" cy="1149.7" r="4.1"/><circle cx="2320.7" cy="1152.9" r="4.1"/><circle cx="2327.5" cy="1153.0" r="4.1"/><circle cx="2334.2" cy="1156.0" r="4.1"/><circle cx="2341.0" cy="1159.1" r="4.1"/><circle cx="2347.8" cy="1159.8" r="4.1"/><circle cx="2354.5" cy="1160.0" r="4.1"/><circle cx="2361.3" cy="1162.0" r="4.1"/><circle cx="2368.0" cy="1165.5" r="4.1"/><circle cx="2374.8" cy="1167.8" r="4.1"/><circle cx="2381.6" cy="1170.4" r="4.1"/><circle cx="2388.3" cy="1173.3" r="4.1"/><circle cx="2395.1" cy="1172.9" r="4.1"/><circle cx="2401.9" cy="1177.4" r="4.1"/><circle cx="2407.4" cy="1181.1" r="4.1"/><circle cx="2412.6" cy="1182.8" r="4.1"/><circle cx="2417.8" cy="1183.8" r="4.1"/><circle cx="2423.0" cy="1186.3" r="4.1"/><circle cx="2428.2" cy="1189.6" r="4.1"/><circle cx="2433.4" cy="1192.6" r="4.1"/><circle cx="2438.6" cy="1193.8" r="4.1"/><circle cx="2443.8" cy="1197.2" r="4.1"/><circle cx="2449.0" cy="1198.1" r="4.1"/><circle cx="2454.2" cy="1197.2" r="4.1"/><circle cx="2459.4" cy="1200.0" r="4.1"/><circle cx="2464.6" cy="1200.5" r="4.1"/><circle cx="2469.8" cy="1200.9" r="4.1"/><circle cx="2475.0" cy="1203.0" r="4.1"/><circle cx="2478.8" cy="1205.1" r="4.1"/><circle cx="2482.4" cy="1204.1" r="4.1"/><circle cx="2486.0" cy="1207.2" r="4.1"/><circle cx="2489.6" cy="1209.7" r="4.1"/><circle cx="2493.3" cy="1209.9" r="4.1"/><circle cx="2496.9" cy="1211.6" r="4.1"/><circle cx="2500.5" cy="1214.2" r="4.1"/><circle cx="2504.1" cy="1214.4" r="4.1"/><circle cx="2507.7" cy="1215.9" r="4.1"/><circle cx="2511.4" cy="1219.2" r="4.1"/><circle cx="2515.0" cy="1218.4" r="4.1"/><circle cx="2518.6" cy="1219.7" r="4.1"/><circle cx="2522.2" cy="1221.2" r="4.1"/><circle cx="2525.8" cy="1223.8" r="4.1"/><circle cx="2528.7" cy="1223.5" r="4.1"/><circle cx="2531.6" cy="1224.4" r="4.1"/><circle cx="2534.6" cy="1225.4" r="4.1"/><circle cx="2537.5" cy="1228.0" r="4.1"/><circle cx="2540.4" cy="1227.2" r="4.1"/><circle cx="2543.3" cy="1230.4" r="4.1"/><circle cx="2546.2" cy="1230.5" r="4.1"/><circle cx="2549.1" cy="1230.0" r="4.1"/><circle cx="2552.0" cy="1233.1" r="4.1"/><circle cx="2554.9" cy="1232.2" r="4.1"/><circle cx="2557.8" cy="1229.7" r="4.1"/><circle cx="2560.8" cy="1230.6" r="4.1"/><circle cx="2563.7" cy="1229.8" r="4.1"/><circle cx="2566.5" cy="1228.5" r="4.1"/><circle cx="2568.5" cy="1226.9" r="4.1"/><circle cx="2570.5" cy="1229.9" r="4.1"/><circle cx="2572.4" cy="1228.0" r="4.1"/><circle cx="2574.4" cy="1228.3" r="4.1"/><circle cx="2576.4" cy="1228.5" r="4.1"/><circle cx="2578.3" cy="1228.3" r="4.1"/><circle cx="2580.3" cy="1228.4" r="4.1"/><circle cx="2582.3" cy="1227.2" r="4.1"/><circle cx="2584.2" cy="1228.6" r="4.1"/><circle cx="2586.2" cy="1227.5" r="4.1"/><circle cx="2588.2" cy="1227.3" r="4.1"/><circle cx="2590.1" cy="1228.6" r="4.1"/><circle cx="2592.1" cy="1227.7" r="4.1"/><circle cx="2594.1" cy="1226.1" r="4.1"/><circle cx="2596.0" cy="1227.7" r="4.1"/><circle cx="2596.9" cy="1228.4" r="4.1"/><circle cx="2597.8" cy="1227.3" r="4.1"/><circle cx="2598.6" cy="1227.8" r="4.1"/><circle cx="2599.4" cy="1226.0" r="4.1"/><circle cx="2600.2" cy="1225.0" r="4.1"/><circle cx="2601.0" cy="1226.4" r="4.1"/><circle cx="2601.9" cy="1225.8" r="4.1"/><circle cx="2602.7" cy="1224.8" r="4.1"/><circle cx="2603.5" cy="1227.1" r="4.1"/><circle cx="2604.3" cy="1226.8" r="4.1"/></g>
</svg>
</body></html>
